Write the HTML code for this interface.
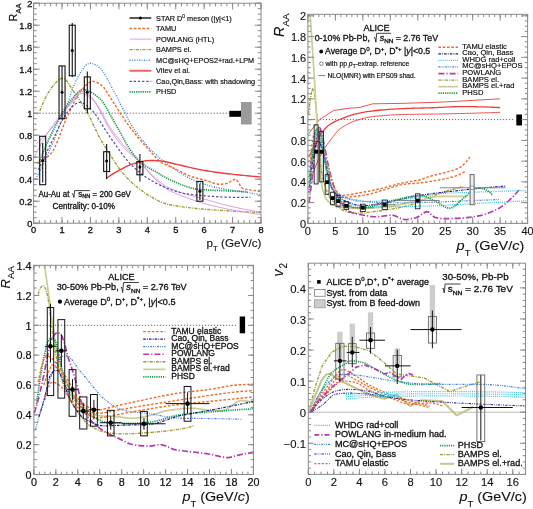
<!DOCTYPE html><html><head><meta charset="utf-8"><style>html,body{margin:0;padding:0;background:#fff;}svg{display:block;will-change:transform;filter:blur(0.35px);}text{font-family:"Liberation Sans", sans-serif;fill:#111;stroke:#111;}</style></head><body>
<svg width="533" height="509" viewBox="0 0 533 509">
<rect width="533" height="509" fill="#fff"/>
<line x1="33.6" y1="113.2" x2="229.73" y2="113.2" stroke="#555" stroke-width="0.9" stroke-dasharray="1.2 1.8"/>
<polyline points="39.85,111 42.65,104.06 45.45,97.82 48.25,92.54 51.05,88.5 53.85,84.94 56.65,81.7 59.45,79.24 62.25,78.05 65.05,78.97 67.85,82.35 70.65,86.91 73.45,91.27 76.24,95.18 79.04,99.26 81.84,103.53 84.64,108.03 87.44,112.81 90.24,118.2 93.04,124.08 95.84,130.07 98.64,135.75 101.44,140.82 104.24,145.47 107.04,149.89 109.84,154.21 112.64,158.57 115.44,163.06 118.23,167.33 121.03,171.01 123.83,174.33 126.63,177.42 129.43,180.3 132.23,182.96 135.03,185.43 137.83,187.73 140.63,189.89 143.43,191.91 146.23,193.79 149.03,195.54 151.83,197.19 154.63,198.82 157.43,200.36 160.22,201.74 163.02,202.9 165.82,203.76 168.62,204.45 171.42,205.05 174.22,205.57 177.02,206.03 179.82,206.45 182.62,206.86 185.42,207.23 188.22,207.58 191.02,207.9 193.82,208.2 196.62,208.49 199.41,208.75 202.21,208.99 205.01,209.23 207.81,209.46 210.61,209.67 213.41,209.88 216.21,210.08 219.01,210.27 221.81,210.46 224.61,210.63 227.41,210.8 230.21,210.97 233.01,211.12 235.81,211.28 238.61,211.43 241.4,211.57 244.2,211.71 247,211.84 249.8,211.97 252.6,212.09 255.4,212.21 258.2,212.32 261,212.42" fill="none" stroke="#a0a035" stroke-width="1.4" stroke-dasharray="3.2 1.1 1 1.1" stroke-linejoin="round" />
<polyline points="35.59,179.2 38.44,173.78 41.3,168.09 44.15,162.17 47,156.02 49.86,149.66 52.71,143.07 55.56,136.13 58.42,128.93 61.27,121.53 64.12,114.01 66.98,105.72 69.83,96.8 72.68,88.36 75.54,81.51 78.39,76.39 81.24,71.46 84.1,67.21 86.95,64.21 89.8,63.04 92.66,63.53 95.51,64.84 98.36,66.6 101.22,69.06 104.07,73.08 106.92,78.13 109.78,83.66 112.63,89.09 115.48,94.29 118.34,99.77 121.19,105.41 124.04,111.07 126.9,116.78 129.75,122.31 132.6,126.84 135.46,131.06 138.31,134.99 141.16,138.68 144.01,142.15 146.87,145.43 149.72,148.56 152.57,151.5 155.43,154.25 158.28,156.82 161.13,159.26 163.99,161.57 166.84,163.71 169.69,165.75 172.55,167.78 175.4,169.78 178.25,171.71 181.11,173.52 183.96,175.23 186.81,176.89 189.67,178.43 192.52,179.76 195.37,180.94 198.23,182.06 201.08,183.12 203.93,184.1 206.79,185.02 209.64,185.86 212.49,186.63 215.35,187.32 218.2,187.93 221.05,188.48 223.91,188.98 226.76,189.45 229.61,189.91 232.47,190.36 235.32,190.77 238.17,191.16 241.03,191.54 243.88,191.95 246.73,192.39 249.59,192.87 252.44,193.38 255.29,193.91 258.15,194.46 261,195.04" fill="none" stroke="#3f88e0" stroke-width="1.4" stroke-dasharray="1.2 1.4 0.8 1.4" stroke-linejoin="round" />
<polyline points="35.59,162.7 38.44,162.28 41.3,161.13 44.15,159.42 47,157.31 49.86,154.95 52.71,151.33 55.56,145.82 58.42,139.02 61.27,131.56 64.12,124.05 66.98,117.11 69.83,111.03 72.68,104.84 75.54,99.02 78.39,94.3 81.24,90.74 84.1,87.32 86.95,84.36 89.8,82.24 92.66,81.31 95.51,81.75 98.36,83.13 101.22,85.05 104.07,87.72 106.92,92.03 109.78,96.7 112.63,101.09 115.48,105.65 118.34,110.18 121.19,114.54 124.04,118.81 126.9,122.95 129.75,126.89 132.6,130.61 135.46,134.23 138.31,137.74 141.16,141.14 144.01,144.44 146.87,147.65 149.72,150.76 152.57,153.95 155.43,157.15 158.28,160.09 161.13,162.47 163.99,164.08 166.84,165.22 169.69,166.26 172.55,167.52 175.4,168.97 178.25,170.47 181.11,171.91 183.96,173.29 186.81,174.66 189.67,175.94 192.52,177.01 195.37,177.86 198.23,178.58 201.08,179.25 203.93,179.92 206.79,180.68 209.64,181.66 212.49,182.73 215.35,183.64 218.2,184.19 221.05,184.22 223.91,183.95 226.76,183.51 229.61,182.08 232.47,180.19 235.32,179.2 238.17,181.97 241.03,187.09 243.88,189.26 246.73,189.64 249.59,189.88 252.44,190.2 255.29,190.66 258.15,191.22 261,191.85" fill="none" stroke="#f06a28" stroke-width="1.4" stroke-dasharray="2.6 1.7" stroke-linejoin="round" />
<polyline points="35.87,144 38.72,141.54 41.57,138.92 44.42,136.13 47.27,133.2 50.12,130.14 52.97,126.89 55.82,123.45 58.67,119.83 61.52,116.08 64.37,112.01 67.22,107.63 70.07,103.56 72.92,99.54 75.77,95.39 78.62,92.24 81.47,91.21 84.32,92.05 87.17,93.85 90.02,96.2 92.87,98.75 95.72,102.35 98.57,106.96 101.42,112.18 104.27,117.59 107.12,122.79 109.97,127.36 112.82,131.39 115.67,135.26 118.52,138.97 121.36,142.49 124.21,145.81 127.06,148.88 129.91,151.69 132.76,154.38 135.61,157.07 138.46,159.89 141.31,162.95 144.16,166.24 147.01,169.56 149.86,172.76 152.71,175.65 155.56,178.26 158.41,180.8 161.26,183.15 164.11,185.23 166.96,186.92 169.81,188.31 172.66,189.52 175.51,190.6 178.36,191.59 181.21,192.52 184.06,193.44 186.91,194.33 189.76,195.17 192.61,195.97 195.46,196.75 198.31,197.51 201.16,198.27 204.01,199.04 206.86,199.83 209.71,200.63 212.56,201.44 215.4,202.24 218.25,203.04 221.1,203.82 223.95,204.58 226.8,205.32 229.65,206.02 232.5,206.68 235.35,207.32 238.2,207.94 241.05,208.54 243.9,209.12 246.75,209.69 249.6,210.23 252.45,210.76 255.3,211.26 258.15,211.74 261,212.2" fill="none" stroke="#dd90e0" stroke-width="0.9"  stroke-linejoin="round" />
<polyline points="33.88,158.3 36.76,152.39 39.63,146.79 42.51,141.55 45.38,136.7 48.26,132.2 51.13,127.99 54.01,124 56.88,120.19 59.76,116.55 62.63,113.06 65.51,109.71 68.38,106.48 71.26,103.25 74.13,99.44 77.01,95.86 79.88,93.64 82.76,93.59 85.63,94.68 88.51,96.44 91.38,98.53 94.26,101.3 97.13,105.55 100.01,110.8 102.88,116.54 105.76,122.27 108.63,127.46 111.51,131.79 114.38,135.83 117.26,139.68 120.13,143.32 123.01,146.7 125.88,149.76 128.76,152.48 131.63,154.97 134.51,157.42 137.38,159.98 140.25,162.83 143.13,166 146,169.33 148.88,172.64 151.75,175.76 154.63,178.61 157.5,181.41 160.38,184.1 163.25,186.54 166.13,188.61 169,190.29 171.88,191.75 174.75,193.05 177.63,194.25 180.5,195.37 183.38,196.47 186.25,197.56 189.13,198.63 192,199.65 194.88,200.64 197.75,201.58 200.63,202.47 203.5,203.3 206.38,204.08 209.25,204.84 212.13,205.57 215,206.27 217.88,206.95 220.75,207.6 223.63,208.22 226.5,208.82 229.38,209.39 232.25,209.94 235.13,210.47 238,210.98 240.88,211.47 243.75,211.95 246.63,212.41 249.5,212.86 252.38,213.28 255.25,213.67 258.13,214.05 261,214.4" fill="none" stroke="#dd90e0" stroke-width="0.9"  stroke-linejoin="round" />
<polyline points="38.43,163.8 41.08,157.22 43.74,150.87 46.39,144.77 49.04,138.92 51.69,133.34 54.34,128.03 56.99,122.98 59.65,118.02 62.3,113.21 64.95,108.68 67.6,104.57 70.25,101.02 72.91,97.91 75.56,94.77 78.21,92 80.86,90.11 83.51,89.56 86.16,89.98 88.82,90.94 91.47,92.35 94.12,94.12 96.77,96.14 99.42,98.32 102.08,101 104.73,104.94 107.38,109.64 110.03,114.51 112.68,119.09 115.33,123.76 117.99,128.53 120.64,133.29 123.29,138.02 125.94,142.86 128.59,147.41 131.25,151.33 133.9,154.94 136.55,158.2 139.2,160.97 141.85,163.19 144.5,165.14 147.16,166.87 149.81,168.46 152.46,169.97 155.11,171.44 157.76,172.95 160.42,174.52 163.07,176.1 165.72,177.6 168.37,178.98 171.02,180.18 173.67,181.35 176.33,182.52 178.98,183.67 181.63,184.77 184.28,185.81 186.93,186.76 189.58,187.6 192.24,188.31 194.89,188.87 197.54,189.26 200.19,189.49 202.84,189.7 205.5,189.87 208.15,190.03 210.8,190.16 213.45,190.28 216.1,190.39 218.75,190.5 221.41,190.6 224.06,190.7 226.71,190.81 229.36,190.94 232.01,191.07 234.67,191.2 237.32,191.33 239.97,191.46 242.62,191.59 245.27,191.72 247.92,191.85" fill="none" stroke="#179a4e" stroke-width="1.7" stroke-dasharray="1.2 1.0" stroke-linejoin="round" />
<polyline points="38.43,169.85 41.12,164 43.8,158.25 46.48,152.61 49.17,147.1 51.85,141.7 54.54,136.25 57.22,130.53 59.91,124.86 62.59,119.56 65.27,114.95 67.96,111.35 70.64,108.48 73.33,105.77 76.01,103.6 78.7,102.35 81.38,102.4 84.06,103.63 86.75,105.61 89.43,107.93 92.12,110.37 94.8,113.53 97.48,117.3 100.17,121.47 102.85,125.85 105.54,130.23 108.22,134.41 110.91,138.24 113.59,142.03 116.27,145.87 118.96,149.67 121.64,153.38 124.33,156.93 127.01,160.23 129.69,163.23 132.38,165.94 135.06,168.5 137.75,170.91 140.43,173.15 143.12,175.23 145.8,177.13 148.48,178.84 151.17,180.44 153.85,181.96 156.54,183.39 159.22,184.74 161.9,186 164.59,187.18 167.27,188.28 169.96,189.29 172.64,190.25 175.33,191.17 178.01,192.01 180.69,192.74 183.38,193.34 186.06,193.8 188.75,194.2 191.43,194.55 194.11,194.87 196.8,195.15 199.48,195.41 202.17,195.63 204.85,195.84 207.54,196.05 210.22,196.25 212.9,196.44 215.59,196.62 218.27,196.78 220.96,196.92 223.64,197.05 226.33,197.15 229.01,197.22 231.69,197.27 234.38,197.31 237.06,197.35 239.75,197.39 242.43,197.42 245.11,197.44 247.8,197.46 250.48,197.46" fill="none" stroke="#4a4aa8" stroke-width="1.2" stroke-dasharray="2.3 1.9" stroke-linejoin="round" />
<polyline points="106.65,178.1 108.61,176.74 110.56,175.42 112.51,174.15 114.47,172.93 116.42,171.77 118.37,170.67 120.33,169.62 122.28,168.56 124.24,167.52 126.19,166.54 128.14,165.62 130.1,164.8 132.05,164.11 134.01,163.55 135.96,163 137.91,162.47 139.87,161.97 141.82,161.52 143.77,161.12 145.73,160.81 147.68,160.6 149.64,160.5 151.59,160.51 153.54,160.56 155.5,160.65 157.45,160.76 159.4,160.89 161.36,161.04 163.31,161.25 165.27,161.58 167.22,162 169.17,162.48 171.13,162.99 173.08,163.5 175.03,163.97 176.99,164.41 178.94,164.85 180.9,165.3 182.85,165.76 184.8,166.23 186.76,166.69 188.71,167.16 190.66,167.61 192.62,168.07 194.57,168.5 196.53,168.93 198.48,169.34 200.43,169.73 202.39,170.09 204.34,170.43 206.29,170.75 208.25,171.06 210.2,171.36 212.16,171.65 214.11,171.94 216.06,172.21 218.02,172.47 219.97,172.73 221.92,172.98 223.88,173.23 225.83,173.46 227.79,173.7 229.74,173.93 231.69,174.15 233.65,174.37 235.6,174.59 237.55,174.8 239.51,175.01 241.46,175.21 243.42,175.42 245.37,175.61 247.32,175.8 249.28,175.99 251.23,176.17 253.18,176.35 255.14,176.52 257.09,176.69 259.05,176.85 261,177" fill="none" stroke="#ee3c3c" stroke-width="1.4"  stroke-linejoin="round" />
<rect x="39.7" y="136.3" width="6" height="48.4" fill="none" stroke="#111" stroke-width="1.1" />
<line x1="42.7" y1="142.9" x2="42.7" y2="182.5" stroke="#111" stroke-width="1.1" />
<circle cx="42.7" cy="160.5" r="1.5" fill="#000"/>
<rect x="59.03" y="65.9" width="6" height="52.8" fill="none" stroke="#111" stroke-width="1.1" />
<line x1="62.03" y1="65.9" x2="62.03" y2="118.7" stroke="#111" stroke-width="1.1" />
<circle cx="62.03" cy="92.3" r="1.5" fill="#000"/>
<rect x="69.26" y="25.2" width="6" height="50.6" fill="none" stroke="#111" stroke-width="1.1" />
<line x1="72.26" y1="23" x2="72.26" y2="76.9" stroke="#111" stroke-width="1.1" />
<circle cx="72.26" cy="50.5" r="1.5" fill="#000"/>
<rect x="84.32" y="76.9" width="6" height="31.9" fill="none" stroke="#111" stroke-width="1.1" />
<line x1="87.32" y1="71.4" x2="87.32" y2="113.2" stroke="#111" stroke-width="1.1" />
<circle cx="87.32" cy="92.3" r="1.5" fill="#000"/>
<rect x="103.65" y="151.7" width="6" height="19.8" fill="none" stroke="#111" stroke-width="1.1" />
<line x1="106.65" y1="144" x2="106.65" y2="179.2" stroke="#111" stroke-width="1.1" />
<circle cx="106.65" cy="161.05" r="1.5" fill="#000"/>
<rect x="136.91" y="161.6" width="6" height="13.2" fill="none" stroke="#111" stroke-width="1.1" />
<line x1="139.91" y1="153.9" x2="139.91" y2="181.4" stroke="#111" stroke-width="1.1" />
<circle cx="139.91" cy="167.1" r="1.5" fill="#000"/>
<rect x="196.89" y="181.4" width="6" height="19.8" fill="none" stroke="#111" stroke-width="1.1" />
<line x1="199.89" y1="183.6" x2="199.89" y2="200.1" stroke="#111" stroke-width="1.1" />
<circle cx="199.89" cy="191.3" r="1.5" fill="#000"/>
<rect x="229.3" y="110.8" width="11.7" height="6" fill="#000" stroke="none" stroke-width="1" />
<rect x="241" y="102" width="10.7" height="22.5" fill="#9a9a9a" stroke="none" stroke-width="1" />
<rect x="33.6" y="3.2" width="227.4" height="220" fill="none" stroke="#8a8a8a" stroke-width="1.0" />
<path d="M33.6 223.2v-6.2M33.6 3.2v6.2M62.03 223.2v-6.2M62.03 3.2v6.2M90.45 223.2v-6.2M90.45 3.2v6.2M118.88 223.2v-6.2M118.88 3.2v6.2M147.3 223.2v-6.2M147.3 3.2v6.2M175.72 223.2v-6.2M175.72 3.2v6.2M204.15 223.2v-6.2M204.15 3.2v6.2M232.57 223.2v-6.2M232.57 3.2v6.2M261 223.2v-6.2M261 3.2v6.2M33.6 223.2v-3.2M33.6 3.2v3.2M39.29 223.2v-3.2M39.29 3.2v3.2M44.97 223.2v-3.2M44.97 3.2v3.2M50.66 223.2v-3.2M50.66 3.2v3.2M56.34 223.2v-3.2M56.34 3.2v3.2M62.03 223.2v-3.2M62.03 3.2v3.2M67.71 223.2v-3.2M67.71 3.2v3.2M73.4 223.2v-3.2M73.4 3.2v3.2M79.08 223.2v-3.2M79.08 3.2v3.2M84.77 223.2v-3.2M84.77 3.2v3.2M90.45 223.2v-3.2M90.45 3.2v3.2M96.14 223.2v-3.2M96.14 3.2v3.2M101.82 223.2v-3.2M101.82 3.2v3.2M107.5 223.2v-3.2M107.5 3.2v3.2M113.19 223.2v-3.2M113.19 3.2v3.2M118.88 223.2v-3.2M118.88 3.2v3.2M124.56 223.2v-3.2M124.56 3.2v3.2M130.25 223.2v-3.2M130.25 3.2v3.2M135.93 223.2v-3.2M135.93 3.2v3.2M141.62 223.2v-3.2M141.62 3.2v3.2M147.3 223.2v-3.2M147.3 3.2v3.2M152.99 223.2v-3.2M152.99 3.2v3.2M158.67 223.2v-3.2M158.67 3.2v3.2M164.36 223.2v-3.2M164.36 3.2v3.2M170.04 223.2v-3.2M170.04 3.2v3.2M175.72 223.2v-3.2M175.72 3.2v3.2M181.41 223.2v-3.2M181.41 3.2v3.2M187.09 223.2v-3.2M187.09 3.2v3.2M192.78 223.2v-3.2M192.78 3.2v3.2M198.47 223.2v-3.2M198.47 3.2v3.2M204.15 223.2v-3.2M204.15 3.2v3.2M209.84 223.2v-3.2M209.84 3.2v3.2M215.52 223.2v-3.2M215.52 3.2v3.2M221.21 223.2v-3.2M221.21 3.2v3.2M226.89 223.2v-3.2M226.89 3.2v3.2M232.57 223.2v-3.2M232.57 3.2v3.2M238.26 223.2v-3.2M238.26 3.2v3.2M243.95 223.2v-3.2M243.95 3.2v3.2M249.63 223.2v-3.2M249.63 3.2v3.2M255.32 223.2v-3.2M255.32 3.2v3.2M261 223.2v-3.2M261 3.2v3.2M33.6 223.2h6.2M261 223.2h-6.2M33.6 201.2h6.2M261 201.2h-6.2M33.6 179.2h6.2M261 179.2h-6.2M33.6 157.2h6.2M261 157.2h-6.2M33.6 135.2h6.2M261 135.2h-6.2M33.6 113.2h6.2M261 113.2h-6.2M33.6 91.2h6.2M261 91.2h-6.2M33.6 69.2h6.2M261 69.2h-6.2M33.6 47.2h6.2M261 47.2h-6.2M33.6 25.2h6.2M261 25.2h-6.2M33.6 3.2h6.2M261 3.2h-6.2M33.6 223.2h3.2M261 223.2h-3.2M33.6 217.7h3.2M261 217.7h-3.2M33.6 212.2h3.2M261 212.2h-3.2M33.6 206.7h3.2M261 206.7h-3.2M33.6 201.2h3.2M261 201.2h-3.2M33.6 195.7h3.2M261 195.7h-3.2M33.6 190.2h3.2M261 190.2h-3.2M33.6 184.7h3.2M261 184.7h-3.2M33.6 179.2h3.2M261 179.2h-3.2M33.6 173.7h3.2M261 173.7h-3.2M33.6 168.2h3.2M261 168.2h-3.2M33.6 162.7h3.2M261 162.7h-3.2M33.6 157.2h3.2M261 157.2h-3.2M33.6 151.7h3.2M261 151.7h-3.2M33.6 146.2h3.2M261 146.2h-3.2M33.6 140.7h3.2M261 140.7h-3.2M33.6 135.2h3.2M261 135.2h-3.2M33.6 129.7h3.2M261 129.7h-3.2M33.6 124.2h3.2M261 124.2h-3.2M33.6 118.7h3.2M261 118.7h-3.2M33.6 113.2h3.2M261 113.2h-3.2M33.6 107.7h3.2M261 107.7h-3.2M33.6 102.2h3.2M261 102.2h-3.2M33.6 96.7h3.2M261 96.7h-3.2M33.6 91.2h3.2M261 91.2h-3.2M33.6 85.7h3.2M261 85.7h-3.2M33.6 80.2h3.2M261 80.2h-3.2M33.6 74.7h3.2M261 74.7h-3.2M33.6 69.2h3.2M261 69.2h-3.2M33.6 63.7h3.2M261 63.7h-3.2M33.6 58.2h3.2M261 58.2h-3.2M33.6 52.7h3.2M261 52.7h-3.2M33.6 47.2h3.2M261 47.2h-3.2M33.6 41.7h3.2M261 41.7h-3.2M33.6 36.2h3.2M261 36.2h-3.2M33.6 30.7h3.2M261 30.7h-3.2M33.6 25.2h3.2M261 25.2h-3.2M33.6 19.7h3.2M261 19.7h-3.2M33.6 14.2h3.2M261 14.2h-3.2M33.6 8.7h3.2M261 8.7h-3.2M33.6 3.2h3.2M261 3.2h-3.2" stroke="#8a8a8a" stroke-width="1.0" fill="none"/>
<text x="33.6" y="233" font-size="9.3" stroke-width="0.3" text-anchor="middle" >0</text>
<text x="62.03" y="233" font-size="9.3" stroke-width="0.3" text-anchor="middle" >1</text>
<text x="90.45" y="233" font-size="9.3" stroke-width="0.3" text-anchor="middle" >2</text>
<text x="118.88" y="233" font-size="9.3" stroke-width="0.3" text-anchor="middle" >3</text>
<text x="147.3" y="233" font-size="9.3" stroke-width="0.3" text-anchor="middle" >4</text>
<text x="175.72" y="233" font-size="9.3" stroke-width="0.3" text-anchor="middle" >5</text>
<text x="204.15" y="233" font-size="9.3" stroke-width="0.3" text-anchor="middle" >6</text>
<text x="232.57" y="233" font-size="9.3" stroke-width="0.3" text-anchor="middle" >7</text>
<text x="261" y="233" font-size="9.3" stroke-width="0.3" text-anchor="middle" >8</text>
<text x="32.3" y="226.7" font-size="9.3" stroke-width="0.3" text-anchor="end" >0</text>
<text x="32.3" y="204.7" font-size="9.3" stroke-width="0.3" text-anchor="end" >0.2</text>
<text x="32.3" y="182.7" font-size="9.3" stroke-width="0.3" text-anchor="end" >0.4</text>
<text x="32.3" y="160.7" font-size="9.3" stroke-width="0.3" text-anchor="end" >0.6</text>
<text x="32.3" y="138.7" font-size="9.3" stroke-width="0.3" text-anchor="end" >0.8</text>
<text x="32.3" y="116.7" font-size="9.3" stroke-width="0.3" text-anchor="end" >1</text>
<text x="32.3" y="94.7" font-size="9.3" stroke-width="0.3" text-anchor="end" >1.2</text>
<text x="32.3" y="72.7" font-size="9.3" stroke-width="0.3" text-anchor="end" >1.4</text>
<text x="32.3" y="50.7" font-size="9.3" stroke-width="0.3" text-anchor="end" >1.6</text>
<text x="32.3" y="28.7" font-size="9.3" stroke-width="0.3" text-anchor="end" >1.8</text>
<text x="32.3" y="6.7" font-size="9.3" stroke-width="0.3" text-anchor="end" >2</text>
<text x="206.6" y="247.1" font-size="11.3" stroke-width="0.12" text-anchor="start" textLength="54.8" lengthAdjust="spacingAndGlyphs" >p<tspan font-size="7.5" dy="4.2">T</tspan><tspan dy="-4.2"> (GeV/c)</tspan></text>
<text transform="translate(17.1,21.4) rotate(-90)" font-size="10.8" stroke-width="0.22" >R<tspan font-size="7.6" dy="3.7">AA</tspan></text>
<line x1="129.5" y1="18" x2="151.3" y2="18" stroke="#000" stroke-width="1.3" />
<circle cx="140.4" cy="18" r="1.5" fill="#000"/>
<text x="156.1" y="20.5" font-size="7.3" stroke-width="0.18" text-anchor="start" >STAR D<tspan font-size="5" dy="-3">0</tspan><tspan dy="3"> meson (|y|&lt;1)</tspan></text>
<line x1="129.5" y1="28.55" x2="151.3" y2="28.55" stroke="#f06a28" stroke-width="1.4" stroke-dasharray="2.6 1.7"/>
<text x="156.1" y="31.05" font-size="7.3" stroke-width="0.18" text-anchor="start" >TAMU</text>
<line x1="129.5" y1="39.1" x2="151.3" y2="39.1" stroke="#dd90e0" stroke-width="0.9" />
<text x="156.1" y="41.6" font-size="7.3" stroke-width="0.18" text-anchor="start" >POWLANG (HTL)</text>
<line x1="129.5" y1="49.65" x2="151.3" y2="49.65" stroke="#a0a035" stroke-width="1.4" stroke-dasharray="3.2 1.1 1 1.1"/>
<text x="156.1" y="52.15" font-size="7.3" stroke-width="0.18" text-anchor="start" >BAMPS el.</text>
<line x1="129.5" y1="60.2" x2="151.3" y2="60.2" stroke="#3f88e0" stroke-width="1.4" stroke-dasharray="1.2 1.4 0.8 1.4"/>
<text x="156.1" y="62.7" font-size="7.3" stroke-width="0.18" text-anchor="start" >MC@sHQ+EPOS2+rad.+LPM</text>
<line x1="129.5" y1="70.75" x2="151.3" y2="70.75" stroke="#f06464" stroke-width="2.0" />
<text x="156.1" y="73.25" font-size="7.3" stroke-width="0.18" text-anchor="start" >Vitev et al.</text>
<line x1="129.5" y1="81.3" x2="151.3" y2="81.3" stroke="#4a4aa8" stroke-width="1.2" stroke-dasharray="2.3 1.9"/>
<text x="156.1" y="83.8" font-size="7.3" stroke-width="0.18" text-anchor="start" >Cao,Qin,Bass: with shadowing</text>
<line x1="129.5" y1="91.85" x2="151.3" y2="91.85" stroke="#179a4e" stroke-width="1.7" stroke-dasharray="1.2 1.0"/>
<text x="156.1" y="94.35" font-size="7.3" stroke-width="0.18" text-anchor="start" >PHSD</text>
<text x="38.4" y="196.5" font-size="8.2" stroke-width="0.3" text-anchor="start" textLength="92.5" lengthAdjust="spacingAndGlyphs" >Au-Au at &#160;&#160;&#160;s<tspan font-size="5.8" dy="1.8">NN</tspan><tspan dy="-1.8"> = 200 GeV</tspan></text>
<path d="M72 194.26L72.8 193.67L73.9 197.5L74.7 190.6L89.8 190.6" fill="none" stroke="#111" stroke-width="0.8"/>
<text x="52.6" y="208.9" font-size="8.2" stroke-width="0.3" text-anchor="start" textLength="62.3" lengthAdjust="spacingAndGlyphs" >Centrality: 0-10%</text>
<line x1="307.9" y1="119.6" x2="513.87" y2="119.6" stroke="#555" stroke-width="0.9" stroke-dasharray="1.2 1.8"/>
<rect x="314.14" y="124.79" width="4" height="59.17" fill="#f2f2f2" stroke="none" stroke-width="1" />
<rect x="315.84" y="124.79" width="1.8" height="59.17" fill="#d8d8d8" stroke="none" stroke-width="1" />
<rect x="319.63" y="131.43" width="4" height="50.45" fill="#f2f2f2" stroke="none" stroke-width="1" />
<rect x="321.33" y="131.43" width="1.8" height="50.45" fill="#d8d8d8" stroke="none" stroke-width="1" />
<polyline points="308.45,134.13 309.82,132.16 319.6,119.6 333.39,110.57 349.09,108.18 358.98,107.66 372.71,103.82 400.17,103.41 445.21,101.95 500.14,98.84" fill="none" stroke="#ee3c3c" stroke-width="0.9"  stroke-linejoin="round" />
<polyline points="308.72,156.97 311.15,152.28 313.57,147.37 315.99,142.7 318.42,138.33 320.84,134.17 323.26,130.7 325.68,128.07 328.11,125.85 330.53,124.04 332.95,122.57 335.38,121.32 337.8,120.23 340.22,119.23 342.65,118.28 345.07,117.35 347.49,116.48 349.91,115.65 352.34,114.89 354.76,114.19 357.18,113.57 359.61,113.03 362.03,112.55 364.45,112.11 366.87,111.7 369.3,111.34 371.72,111.02 374.14,110.74 376.57,110.48 378.99,110.24 381.41,110.01 383.84,109.79 386.26,109.59 388.68,109.4 391.1,109.22 393.53,109.06 395.95,108.92 398.37,108.79 400.8,108.67 403.22,108.57 405.64,108.48 408.07,108.4 410.49,108.32 412.91,108.25 415.33,108.18 417.76,108.12 420.18,108.06 422.6,108 425.03,107.93 427.45,107.87 429.87,107.8 432.29,107.73 434.72,107.65 437.14,107.55 439.56,107.44 441.99,107.33 444.41,107.2 446.83,107.08 449.26,106.97 451.68,106.86 454.1,106.77 456.52,106.69 458.95,106.65 461.37,106.63 463.79,106.63 466.22,106.63 468.64,106.65 471.06,106.67 473.48,106.7 475.91,106.73 478.33,106.78 480.75,106.83 483.18,106.89 485.6,106.97 488.02,107.05 490.45,107.15 492.87,107.26 495.29,107.38 497.71,107.51 500.14,107.66" fill="none" stroke="#ee3c3c" stroke-width="1.3"  stroke-linejoin="round" />
<polyline points="311.8,176.38 314.18,169.8 316.57,163.86 318.95,158.68 321.34,154.04 323.72,149.85 326.1,146.04 328.49,142.61 330.87,139.46 333.26,136.42 335.64,133.29 338.02,130.5 340.41,128.56 342.79,126.94 345.18,125.47 347.56,124.15 349.94,122.97 352.33,121.92 354.71,120.99 357.1,120.18 359.48,119.46 361.86,118.8 364.25,118.2 366.63,117.66 369.02,117.19 371.4,116.8 373.78,116.49 376.17,116.23 378.55,115.99 380.94,115.77 383.32,115.56 385.7,115.37 388.09,115.2 390.47,115.05 392.86,114.91 395.24,114.8 397.62,114.7 400.01,114.62 402.39,114.56 404.78,114.5 407.16,114.45 409.54,114.4 411.93,114.36 414.31,114.32 416.7,114.29 419.08,114.26 421.46,114.23 423.85,114.2 426.23,114.17 428.62,114.14 431,114.11 433.38,114.08 435.77,114.05 438.15,114.02 440.54,113.98 442.92,113.94 445.3,113.89 447.69,113.84 450.07,113.79 452.46,113.73 454.84,113.68 457.23,113.62 459.61,113.56 461.99,113.5 464.38,113.44 466.76,113.38 469.15,113.31 471.53,113.25 473.91,113.18 476.3,113.11 478.68,113.04 481.07,112.96 483.45,112.89 485.83,112.81 488.22,112.74 490.6,112.66 492.99,112.58 495.37,112.5 497.75,112.42 500.14,112.33" fill="none" stroke="#ee3c3c" stroke-width="0.9"  stroke-linejoin="round" />
<polyline points="308.45,113.79 310.41,98.07 312.37,88.41 314.33,92.58 316.29,108.87 318.25,136.05 320.21,162.89 322.17,174.99 324.13,183.12 326.09,189.29 328.06,194.17 330.02,197.66 331.98,200.13 333.94,202.07 335.9,203.77 337.86,205.51 339.82,207.61 341.78,209.62 343.74,210.68 345.7,211.37 347.66,211.96 349.62,212.45 351.58,212.83 353.54,213.09 355.5,213.22 357.46,213.22 359.43,213.15 361.39,213.03 363.35,212.87 365.31,212.67 367.27,212.44 369.23,212.2 371.19,211.94 373.15,211.69 375.11,211.43 377.07,211.19 379.03,210.95 380.99,210.7 382.95,210.43 384.91,210.16 386.87,209.87 388.83,209.56 390.8,209.25 392.76,208.91 394.72,208.57 396.68,208.21 398.64,207.83 400.6,207.43 402.56,207.01 404.52,206.55 406.48,206.06 408.44,205.54 410.4,204.99 412.36,204.4 414.32,203.79 416.28,203.14 418.24,202.46 420.2,201.68 422.16,200.79 424.13,199.85 426.09,198.88 428.05,197.92 430.01,197.02 431.97,196.22 433.93,195.47 435.89,194.73 437.85,194.02 439.81,193.33 441.77,192.66 443.73,192.01 445.69,191.38 447.65,190.77 449.61,190.18 451.57,189.61 453.53,189.05 455.5,188.51 457.46,187.99 459.42,187.49 461.38,187.01 463.34,186.55" fill="none" stroke="#a0a035" stroke-width="1.4" stroke-dasharray="3.2 1.1 1 1.1" stroke-linejoin="round" />
<polyline points="310.21,15.8 312.19,44.54 314.18,75.44 316.17,107.99 318.15,143.68 320.14,172.94 322.13,187.46 324.12,194.58 326.1,198.83 328.09,201.48 330.08,203.11 332.06,204.35 334.05,205.28 336.04,205.97 338.03,206.57 340.01,207.06 342,207.41 343.99,207.59 345.97,207.74 347.96,207.87 349.95,207.98 351.93,208.08 353.92,208.17 355.91,208.24 357.9,208.29 359.88,208.33 361.87,208.35 363.86,208.34 365.84,208.31 367.83,208.25 369.82,208.16 371.8,208.05 373.79,207.91 375.78,207.76 377.77,207.59 379.75,207.4 381.74,207.2 383.73,206.99 385.71,206.78 387.7,206.56 389.69,206.34 391.68,206.11 393.66,205.82 395.65,205.49 397.64,205.11 399.62,204.71 401.61,204.27 403.6,203.81 405.58,203.35 407.57,202.87 409.56,202.39 411.55,201.92 413.53,201.46 415.52,201.02 417.51,200.61 419.49,200.2 421.48,199.74 423.47,199.25 425.45,198.75 427.44,198.25 429.43,197.79 431.42,197.36 433.4,196.99 435.39,196.7 437.38,196.5 439.36,196.41 441.35,196.41 443.34,196.41 445.33,196.41 447.31,196.41 449.3,196.41 451.29,196.41 453.27,196.41 455.26,196.41 457.25,196.41 459.23,196.41 461.22,196.41 463.21,196.41 465.2,196.41 467.18,196.41" fill="none" stroke="#cccc94" stroke-width="1.7"  stroke-linejoin="round" />
<polyline points="309,202.64 311.67,181.97 314.34,155.69 317.01,135.69 319.68,126.41 322.35,135.54 325.02,149.23 327.69,162.76 330.36,174.19 333.03,183.87 335.7,191.76 338.37,197.94 341.04,202.14 343.71,205.92 346.38,209.92 349.05,211.39 351.71,212.51 354.38,213.35 357.05,214 359.72,214.53 362.39,215.01 365.06,215.49 367.73,215.94 370.4,216.33 373.07,216.61 375.74,216.75 378.41,216.69 381.08,216.41 383.75,216.01 386.42,215.58 389.09,215.25 391.76,215.1 394.43,215.55 397.1,216.72 399.77,218.12 402.44,219.22 405.11,219.55 407.78,219.37 410.45,218.96 413.12,218.41 415.79,217.77 418.46,216.65 421.13,214.77 423.8,212.86 426.47,211.62 429.14,212.15 431.81,215.17 434.48,217.24 437.15,217.88 439.82,218.36 442.49,218.65 445.16,218.73 447.83,218.7 450.5,218.63 453.17,218.54 455.84,218.42 458.51,218.29 461.18,218.14 463.85,217.95 466.52,217.69 469.18,217.37 471.85,217 474.52,216.58 477.19,216.11 479.86,215.61 482.53,214.99 485.2,214.22 487.87,213.3 490.54,212.24 493.21,211.06 495.88,209.77 498.55,208.39 501.22,206.88 503.89,205 506.56,202.78 509.23,200.33 511.9,197.76 514.57,195.03 517.24,191.99 519.91,188.73" fill="none" stroke="#b53aae" stroke-width="1.7" stroke-dasharray="6 2 1.2 2" stroke-linejoin="round" />
<polyline points="309.55,176.69 311.58,147.29 313.61,134.74 315.64,132.18 317.67,134.64 319.7,141.58 321.73,147.45 323.76,153.53 325.79,160.11 327.82,167.6 329.85,174.98 331.88,181.96 333.91,186.88 335.94,190.51 337.97,193.18 340,195.13 342.03,195.36 344.06,195.26 346.09,195.09 348.12,194.85 350.15,194.56 352.18,194.23 354.21,193.86 356.24,193.48 358.27,193.09 360.3,192.71 362.33,192.34 364.36,191.99 366.39,191.62 368.42,191.23 370.45,190.82 372.48,190.4 374.51,189.96 376.54,189.51 378.57,189.05 380.6,188.58 382.63,188.1 384.66,187.62 386.69,187.11 388.72,186.56 390.75,185.98 392.78,185.39 394.81,184.8 396.84,184.25 398.87,183.73 400.9,183.28 402.93,182.88 404.96,182.5 406.99,182.14 409.02,181.77 411.05,181.43 413.08,181.1 415.11,180.77 417.15,180.41 419.18,179.98 421.21,179.45 423.24,178.74 425.27,177.94 427.3,177.17 429.33,176.52 431.36,175.96 433.39,175.44 435.42,174.96 437.45,174.49 439.48,174.02 441.51,173.53 443.54,173.01 445.57,172.43 447.6,171.86 449.63,171.29 451.66,170.7 453.69,170.06 455.72,169.33 457.75,168.48 459.78,167.49 461.81,166.17 463.84,164.34 465.87,162.12 467.9,159.63 469.93,156.97" fill="none" stroke="#f06a28" stroke-width="1.4" stroke-dasharray="2.6 1.7" stroke-linejoin="round" />
<polyline points="340.85,197.45 342.43,197.42 344,197.36 345.57,197.28 347.14,197.18 348.71,197.06 350.28,196.92 351.85,196.76 353.43,196.59 355,196.41 356.57,196.21 358.14,196.01 359.71,195.8 361.28,195.59 362.85,195.37 364.42,195.13 366,194.84 367.57,194.51 369.14,194.15 370.71,193.76 372.28,193.34 373.85,192.9 375.42,192.44 376.99,191.98 378.57,191.51 380.14,191.03 381.71,190.56 383.28,190.1 384.85,189.65 386.42,189.18 387.99,188.68 389.56,188.16 391.14,187.63 392.71,187.1 394.28,186.58 395.85,186.09 397.42,185.64 398.99,185.25 400.56,184.92 402.13,184.63 403.71,184.36 405.28,184.14 406.85,183.95 408.42,183.79 409.99,183.66 411.56,183.55 413.13,183.44 414.7,183.34 416.28,183.23 417.85,183.11 419.42,182.97 420.99,182.81 422.56,182.62 424.13,182.42 425.7,182.21 427.27,181.98 428.85,181.74 430.42,181.48 431.99,181.22 433.56,180.94 435.13,180.66 436.7,180.37 438.27,180.08 439.85,179.78 441.42,179.48 442.99,179.17 444.56,178.85 446.13,178.52 447.7,178.18 449.27,177.8 450.84,177.41 452.42,176.98 453.99,176.52 455.56,176.02 457.13,175.43 458.7,174.76 460.27,174.02 461.84,173.22 463.41,172.38 464.99,171.5" fill="none" stroke="#f06a28" stroke-width="1.4" stroke-dasharray="2.6 1.7" stroke-linejoin="round" />
<polyline points="309.55,187.07 312.03,164.53 314.51,150.32 316.99,141.11 319.48,142.04 321.96,148.07 324.44,158.26 326.92,170.7 329.4,180.11 331.89,187.66 334.37,191.91 336.85,195.02 339.33,197.36 341.81,199.12 344.3,200.6 346.78,201.85 349.26,202.86 351.74,203.65 354.22,204.32 356.71,204.95 359.19,205.44 361.67,205.72 364.15,205.73 366.63,205.6 369.12,205.35 371.6,205.01 374.08,204.61 376.56,204.16 379.05,203.69 381.53,203.22 384.01,202.77 386.49,202.35 388.97,201.89 391.46,201.39 393.94,200.87 396.42,200.32 398.9,199.76 401.38,199.19 403.87,198.62 406.35,198.06 408.83,197.51 411.31,196.98 413.79,196.47 416.28,196 418.76,195.57 421.24,195.17 423.72,194.8 426.2,194.44 428.69,194.09 431.17,193.75 433.65,193.42 436.13,193.1 438.61,192.79 441.1,192.49 443.58,192.2 446.06,191.91 448.54,191.62 451.02,191.35 453.51,191.07 455.99,190.8 458.47,190.53 460.95,190.26 463.44,190 465.92,189.73 468.4,189.47 470.88,189.22 473.36,188.96 475.85,188.71 478.33,188.47 480.81,188.23 483.29,187.99 485.77,187.75 488.26,187.52 490.74,187.3 493.22,187.07 495.7,186.86 498.18,186.64 500.67,186.43 503.15,186.23 505.63,186.03" fill="none" stroke="#1a1a8c" stroke-width="1.2" stroke-dasharray="2.6 1.1 0.9 1.1" stroke-linejoin="round" />
<polyline points="309.55,176.69 312.31,151.75 315.07,138.59 317.83,130.78 320.59,132.02 323.35,140.62 326.11,159.52 328.87,176.24 331.63,187.67 334.39,190.38 337.15,191.98 339.91,194.12 342.67,196.38 345.43,198.13 348.19,199.06 350.95,199.84 353.71,200.51 356.47,201.05 359.23,201.42 361.99,201.59 364.75,201.59 367.51,201.56 370.27,201.5 373.03,201.41 375.79,201.31 378.55,201.19 381.31,201.05 384.07,200.91 386.83,200.76 389.59,200.6 392.35,200.43 395.11,200.22 397.87,199.97 400.63,199.68 403.39,199.36 406.15,199.02 408.91,198.66 411.67,198.29 414.43,197.91 417.19,197.53 419.95,197.11 422.71,196.6 425.47,196.03 428.23,195.44 430.99,194.88 433.75,194.36 436.51,193.94 439.28,193.64 442.04,193.46 444.8,193.3 447.56,193.15 450.32,193.03 453.08,192.91 455.84,192.81 458.6,192.72 461.36,192.63 464.12,192.54 466.88,192.46 469.64,192.37 472.4,192.27 475.16,192.17 477.92,192.07 480.68,191.97 483.44,191.88 486.2,191.78 488.96,191.68 491.72,191.59 494.48,191.5 497.24,191.41 500,191.32 502.76,191.23 505.52,191.14 508.28,191.05 511.04,190.97 513.8,190.89 516.56,190.8 519.32,190.72 522.08,190.65 524.84,190.57 527.6,190.5" fill="none" stroke="#3cc0e0" stroke-width="1.3" stroke-dasharray="1 1.1" stroke-linejoin="round" />
<polyline points="331.9,196.31 334.38,197.62 336.86,198.86 339.33,200.01 341.81,201.06 344.29,201.98 346.77,202.76 349.24,203.5 351.72,204.22 354.2,204.89 356.67,205.47 359.15,205.92 361.63,206.2 364.11,206.32 366.58,206.4 369.06,206.48 371.54,206.55 374.01,206.61 376.49,206.66 378.97,206.7 381.45,206.74 383.92,206.76 386.4,206.78 388.88,206.79 391.35,206.79 393.83,206.78 396.31,206.75 398.79,206.72 401.26,206.67 403.74,206.62 406.22,206.56 408.7,206.5 411.17,206.43 413.65,206.37 416.13,206.31 418.6,206.25 421.08,206.2 423.56,206.14 426.04,206.07 428.51,206.01 430.99,205.94 433.47,205.86 435.94,205.78 438.42,205.7 440.9,205.6 443.38,205.49 445.85,205.37 448.33,205.23 450.81,205.09 453.28,204.93 455.76,204.77 458.24,204.61 460.72,204.44 463.19,204.27 465.67,204.11 468.15,203.95 470.62,203.8 473.1,203.65 475.58,203.51 478.06,203.38 480.53,203.24 483.01,203.1 485.49,202.96 487.97,202.83 490.44,202.69 492.92,202.56 495.4,202.42 497.87,202.29 500.35,202.16 502.83,202.03 505.31,201.9 507.78,201.77 510.26,201.64 512.74,201.51 515.21,201.39 517.69,201.26 520.17,201.14 522.65,201.01 525.12,200.89 527.6,200.77" fill="none" stroke="#3cc0e0" stroke-width="1.3" stroke-dasharray="1 1.1" stroke-linejoin="round" />
<polyline points="309.55,176.69 311.96,158.74 314.37,145.99 316.79,136.4 319.2,136.67 321.61,143.63 324.02,155.96 326.44,174.09 328.85,183.4 331.26,187.66 333.67,190.89 336.09,193.25 338.5,194.9 340.91,196.04 343.32,196.98 345.74,197.76 348.15,198.43 350.56,198.99 352.97,199.47 355.39,199.9 357.8,200.3 360.21,200.68 362.62,201.03 365.04,201.35 367.45,201.63 369.86,201.86 372.27,202.04 374.69,202.16 377.1,202.27 379.51,202.37 381.92,202.47 384.34,202.55 386.75,202.63 389.16,202.7 391.57,202.75 393.99,202.8 396.4,202.83 398.81,202.85 401.22,202.85 403.64,202.84 406.05,202.82 408.46,202.79 410.87,202.75 413.29,202.71 415.7,202.67 418.11,202.63 420.52,202.59 422.94,202.53 425.35,202.47 427.76,202.4 430.17,202.33 432.59,202.25 435,202.16 437.41,202.07 439.82,201.97 442.24,201.87 444.65,201.77 447.06,201.67 449.47,201.56 451.89,201.45 454.3,201.35 456.71,201.24 459.12,201.13 461.54,201.02 463.95,200.92 466.36,200.82 468.77,200.72 471.19,200.62 473.6,200.53 476.01,200.44 478.42,200.35 480.84,200.26 483.25,200.16 485.66,200.07 488.07,199.98 490.49,199.89 492.9,199.8 495.31,199.71 497.72,199.62 500.14,199.53" fill="none" stroke="#3f80d8" stroke-width="1.2" stroke-dasharray="2 1.1 0.8 1.1 0.8 1.1" stroke-linejoin="round" />
<polyline points="309,192.26 311.33,163.85 313.66,143.66 315.99,129.14 318.31,129.2 320.64,134.07 322.97,144.11 325.3,160.71 327.63,173.67 329.96,182.74 332.29,189.49 334.62,193.85 336.95,197.27 339.28,200.01 341.61,202.33 343.93,204.44 346.26,205.73 348.59,206.27 350.92,206.73 353.25,207.11 355.58,207.42 357.91,207.64 360.24,207.78 362.57,207.83 364.9,207.74 367.23,207.46 369.56,207.02 371.88,206.45 374.21,205.79 376.54,205.07 378.87,204.34 381.2,203.63 383.53,202.96 385.86,202.38 388.19,201.77 390.52,201.15 392.85,200.53 395.18,199.91 397.5,199.33 399.83,198.79 402.16,198.3 404.49,197.8 406.82,197.27 409.15,196.76 411.48,196.29 413.81,195.89 416.14,195.59 418.47,195.41 420.8,195.41 423.12,195.8 425.45,196.55 427.78,197.53 430.11,198.64 432.44,199.77 434.77,200.8 437.1,202.06 439.43,203.56 441.76,205.11 444.09,206.52 446.42,207.61 448.74,208.19 451.07,208.04 453.4,207 455.73,205.31 458.06,203.21 460.39,200.96 462.72,198.81 465.05,196.99 467.38,194.99 469.71,192.8 472.04,190.74 474.36,189.1 476.69,188.2 479.02,188.15 481.35,188.42 483.68,189 486.01,189.93 488.34,191.27 490.67,193.07 493,195.37" fill="none" stroke="#179a4e" stroke-width="1.7" stroke-dasharray="1.2 1.0" stroke-linejoin="round" />
<line x1="313.39" y1="151.78" x2="318.88" y2="151.78" stroke="#777" stroke-width="0.9" />
<rect x="314.14" y="124.79" width="4" height="59.17" fill="none" stroke="#222" stroke-width="0.9" />
<rect x="314.24" y="149.88" width="3.8" height="3.8" fill="#000" stroke="none" stroke-width="1" />
<line x1="318.88" y1="151.78" x2="324.38" y2="151.78" stroke="#777" stroke-width="0.9" />
<rect x="319.73" y="131.43" width="3.8" height="50.45" fill="none" stroke="#222" stroke-width="0.9" />
<rect x="319.73" y="149.88" width="3.8" height="3.8" fill="#000" stroke="none" stroke-width="1" />
<line x1="324.38" y1="182.19" x2="329.87" y2="182.19" stroke="#777" stroke-width="0.9" />
<rect x="325.22" y="174.61" width="3.8" height="19.72" fill="none" stroke="#222" stroke-width="0.9" />
<rect x="325.22" y="180.29" width="3.8" height="3.8" fill="#000" stroke="none" stroke-width="1" />
<line x1="329.87" y1="198.07" x2="335.36" y2="198.07" stroke="#777" stroke-width="0.9" />
<rect x="330.62" y="192.26" width="4" height="12.46" fill="none" stroke="#222" stroke-width="0.9" />
<rect x="330.72" y="196.17" width="3.8" height="3.8" fill="#000" stroke="none" stroke-width="1" />
<line x1="335.36" y1="201.08" x2="340.85" y2="201.08" stroke="#777" stroke-width="0.9" />
<rect x="336.11" y="195.37" width="4" height="11.42" fill="none" stroke="#222" stroke-width="0.9" />
<rect x="336.21" y="199.18" width="3.8" height="3.8" fill="#000" stroke="none" stroke-width="1" />
<line x1="340.85" y1="205.86" x2="351.84" y2="205.86" stroke="#777" stroke-width="0.9" />
<rect x="344.05" y="201.6" width="4.6" height="7.78" fill="none" stroke="#222" stroke-width="0.9" />
<rect x="344.45" y="203.96" width="3.8" height="3.8" fill="#000" stroke="none" stroke-width="1" />
<line x1="351.84" y1="207.73" x2="373.81" y2="207.73" stroke="#777" stroke-width="0.9" />
<rect x="360.32" y="204.2" width="5" height="7.27" fill="none" stroke="#222" stroke-width="0.9" />
<rect x="360.93" y="205.83" width="3.8" height="3.8" fill="#000" stroke="none" stroke-width="1" />
<line x1="373.81" y1="204.72" x2="395.78" y2="204.72" stroke="#777" stroke-width="0.9" />
<rect x="382.19" y="200.05" width="5.2" height="9.34" fill="none" stroke="#222" stroke-width="0.9" />
<rect x="382.89" y="202.82" width="3.8" height="3.8" fill="#000" stroke="none" stroke-width="1" />
<line x1="395.78" y1="200.56" x2="439.72" y2="200.56" stroke="#777" stroke-width="0.9" />
<rect x="415.55" y="193.82" width="4.4" height="14.95" fill="none" stroke="#222" stroke-width="0.9" />
<rect x="415.85" y="198.66" width="3.8" height="3.8" fill="#000" stroke="none" stroke-width="1" />
<line x1="439.72" y1="187.8" x2="505.63" y2="187.8" stroke="#888" stroke-width="1.0" />
<rect x="470.13" y="174.61" width="4" height="30.1" fill="#eeeeee" stroke="#666" stroke-width="1.0" />
<circle cx="472.13" cy="187.8" r="1.8" fill="#fff" stroke="#777" stroke-width="0.8"/>
<rect x="516.3" y="114.5" width="5.7" height="11" fill="#000" stroke="none" stroke-width="1" />
<rect x="307.9" y="14.3" width="219.7" height="209.1" fill="none" stroke="#8a8a8a" stroke-width="1.0" />
<path d="M307.9 223.4v-6.3M307.9 14.3v6.3M335.36 223.4v-6.3M335.36 14.3v6.3M362.82 223.4v-6.3M362.82 14.3v6.3M390.29 223.4v-6.3M390.29 14.3v6.3M417.75 223.4v-6.3M417.75 14.3v6.3M445.21 223.4v-6.3M445.21 14.3v6.3M472.68 223.4v-6.3M472.68 14.3v6.3M500.14 223.4v-6.3M500.14 14.3v6.3M527.6 223.4v-6.3M527.6 14.3v6.3M307.9 223.4v-2.8M307.9 14.3v2.8M313.39 223.4v-2.8M313.39 14.3v2.8M318.88 223.4v-2.8M318.88 14.3v2.8M324.38 223.4v-2.8M324.38 14.3v2.8M329.87 223.4v-2.8M329.87 14.3v2.8M335.36 223.4v-2.8M335.36 14.3v2.8M340.85 223.4v-2.8M340.85 14.3v2.8M346.35 223.4v-2.8M346.35 14.3v2.8M351.84 223.4v-2.8M351.84 14.3v2.8M357.33 223.4v-2.8M357.33 14.3v2.8M362.82 223.4v-2.8M362.82 14.3v2.8M368.32 223.4v-2.8M368.32 14.3v2.8M373.81 223.4v-2.8M373.81 14.3v2.8M379.3 223.4v-2.8M379.3 14.3v2.8M384.79 223.4v-2.8M384.79 14.3v2.8M390.29 223.4v-2.8M390.29 14.3v2.8M395.78 223.4v-2.8M395.78 14.3v2.8M401.27 223.4v-2.8M401.27 14.3v2.8M406.76 223.4v-2.8M406.76 14.3v2.8M412.26 223.4v-2.8M412.26 14.3v2.8M417.75 223.4v-2.8M417.75 14.3v2.8M423.24 223.4v-2.8M423.24 14.3v2.8M428.74 223.4v-2.8M428.74 14.3v2.8M434.23 223.4v-2.8M434.23 14.3v2.8M439.72 223.4v-2.8M439.72 14.3v2.8M445.21 223.4v-2.8M445.21 14.3v2.8M450.7 223.4v-2.8M450.7 14.3v2.8M456.2 223.4v-2.8M456.2 14.3v2.8M461.69 223.4v-2.8M461.69 14.3v2.8M467.18 223.4v-2.8M467.18 14.3v2.8M472.68 223.4v-2.8M472.68 14.3v2.8M478.17 223.4v-2.8M478.17 14.3v2.8M483.66 223.4v-2.8M483.66 14.3v2.8M489.15 223.4v-2.8M489.15 14.3v2.8M494.64 223.4v-2.8M494.64 14.3v2.8M500.14 223.4v-2.8M500.14 14.3v2.8M505.63 223.4v-2.8M505.63 14.3v2.8M511.12 223.4v-2.8M511.12 14.3v2.8M516.62 223.4v-2.8M516.62 14.3v2.8M522.11 223.4v-2.8M522.11 14.3v2.8M527.6 223.4v-2.8M527.6 14.3v2.8M307.9 223.4h6.3M527.6 223.4h-6.3M307.9 202.64h6.3M527.6 202.64h-6.3M307.9 181.88h6.3M527.6 181.88h-6.3M307.9 161.12h6.3M527.6 161.12h-6.3M307.9 140.36h6.3M527.6 140.36h-6.3M307.9 119.6h6.3M527.6 119.6h-6.3M307.9 98.84h6.3M527.6 98.84h-6.3M307.9 78.08h6.3M527.6 78.08h-6.3M307.9 57.32h6.3M527.6 57.32h-6.3M307.9 36.56h6.3M527.6 36.56h-6.3M307.9 15.8h6.3M527.6 15.8h-6.3M307.9 223.4h2.8M527.6 223.4h-2.8M307.9 218.21h2.8M527.6 218.21h-2.8M307.9 213.02h2.8M527.6 213.02h-2.8M307.9 207.83h2.8M527.6 207.83h-2.8M307.9 202.64h2.8M527.6 202.64h-2.8M307.9 197.45h2.8M527.6 197.45h-2.8M307.9 192.26h2.8M527.6 192.26h-2.8M307.9 187.07h2.8M527.6 187.07h-2.8M307.9 181.88h2.8M527.6 181.88h-2.8M307.9 176.69h2.8M527.6 176.69h-2.8M307.9 171.5h2.8M527.6 171.5h-2.8M307.9 166.31h2.8M527.6 166.31h-2.8M307.9 161.12h2.8M527.6 161.12h-2.8M307.9 155.93h2.8M527.6 155.93h-2.8M307.9 150.74h2.8M527.6 150.74h-2.8M307.9 145.55h2.8M527.6 145.55h-2.8M307.9 140.36h2.8M527.6 140.36h-2.8M307.9 135.17h2.8M527.6 135.17h-2.8M307.9 129.98h2.8M527.6 129.98h-2.8M307.9 124.79h2.8M527.6 124.79h-2.8M307.9 119.6h2.8M527.6 119.6h-2.8M307.9 114.41h2.8M527.6 114.41h-2.8M307.9 109.22h2.8M527.6 109.22h-2.8M307.9 104.03h2.8M527.6 104.03h-2.8M307.9 98.84h2.8M527.6 98.84h-2.8M307.9 93.65h2.8M527.6 93.65h-2.8M307.9 88.46h2.8M527.6 88.46h-2.8M307.9 83.27h2.8M527.6 83.27h-2.8M307.9 78.08h2.8M527.6 78.08h-2.8M307.9 72.89h2.8M527.6 72.89h-2.8M307.9 67.7h2.8M527.6 67.7h-2.8M307.9 62.51h2.8M527.6 62.51h-2.8M307.9 57.32h2.8M527.6 57.32h-2.8M307.9 52.13h2.8M527.6 52.13h-2.8M307.9 46.94h2.8M527.6 46.94h-2.8M307.9 41.75h2.8M527.6 41.75h-2.8M307.9 36.56h2.8M527.6 36.56h-2.8M307.9 31.37h2.8M527.6 31.37h-2.8M307.9 26.18h2.8M527.6 26.18h-2.8M307.9 20.99h2.8M527.6 20.99h-2.8M307.9 15.8h2.8M527.6 15.8h-2.8" stroke="#8a8a8a" stroke-width="1.0" fill="none"/>
<text x="307.9" y="234.6" font-size="11" stroke-width="0.12" text-anchor="middle" >0</text>
<text x="335.36" y="234.6" font-size="11" stroke-width="0.12" text-anchor="middle" >5</text>
<text x="362.82" y="234.6" font-size="11" stroke-width="0.12" text-anchor="middle" >10</text>
<text x="390.29" y="234.6" font-size="11" stroke-width="0.12" text-anchor="middle" >15</text>
<text x="417.75" y="234.6" font-size="11" stroke-width="0.12" text-anchor="middle" >20</text>
<text x="445.21" y="234.6" font-size="11" stroke-width="0.12" text-anchor="middle" >25</text>
<text x="472.68" y="234.6" font-size="11" stroke-width="0.12" text-anchor="middle" >30</text>
<text x="500.14" y="234.6" font-size="11" stroke-width="0.12" text-anchor="middle" >35</text>
<text x="527.6" y="234.6" font-size="11" stroke-width="0.12" text-anchor="middle" >40</text>
<text x="306.2" y="227.9" font-size="11" stroke-width="0.12" text-anchor="end" >0</text>
<text x="306.2" y="207.14" font-size="11" stroke-width="0.12" text-anchor="end" >0.2</text>
<text x="306.2" y="186.38" font-size="11" stroke-width="0.12" text-anchor="end" >0.4</text>
<text x="306.2" y="165.62" font-size="11" stroke-width="0.12" text-anchor="end" >0.6</text>
<text x="306.2" y="144.86" font-size="11" stroke-width="0.12" text-anchor="end" >0.8</text>
<text x="306.2" y="124.1" font-size="11" stroke-width="0.12" text-anchor="end" >1</text>
<text x="306.2" y="103.34" font-size="11" stroke-width="0.12" text-anchor="end" >1.2</text>
<text x="306.2" y="82.58" font-size="11" stroke-width="0.12" text-anchor="end" >1.4</text>
<text x="306.2" y="61.82" font-size="11" stroke-width="0.12" text-anchor="end" >1.6</text>
<text x="306.2" y="41.06" font-size="11" stroke-width="0.12" text-anchor="end" >1.8</text>
<text x="306.2" y="20.3" font-size="11" stroke-width="0.12" text-anchor="end" >2</text>
<text x="456.6" y="250.3" font-size="13" stroke-width="0.12" text-anchor="start" textLength="67.8" lengthAdjust="spacingAndGlyphs" ><tspan font-style="italic">p</tspan><tspan font-size="8.5" dy="5.5">T</tspan><tspan dy="-5.5"> (GeV/</tspan><tspan font-style="italic">c</tspan>)</text>
<text transform="translate(284.3,37) rotate(-90)" font-size="14.5" stroke-width="0.12" ><tspan font-style="italic">R</tspan><tspan font-size="9.8" dy="4.2">AA</tspan></text>
<text x="363.4" y="30.5" font-size="8.8" stroke-width="0.3" text-anchor="start" textLength="26.3" lengthAdjust="spacingAndGlyphs" >ALICE</text>
<text x="314.7" y="41" font-size="8.5" stroke-width="0.3" text-anchor="start" textLength="123.4" lengthAdjust="spacingAndGlyphs" >0-10% Pb-Pb, &#160;&#160;&#160;<tspan font-style="italic">s</tspan><tspan font-size="6" dy="2">NN</tspan><tspan dy="-2"> = 2.76 TeV</tspan></text>
<path d="M374 38.2L374.8 37.41L375.9 42.2L376.7 33.3L391.1 33.3" fill="none" stroke="#111" stroke-width="0.8"/>
<circle cx="321.2" cy="51.5" r="1.9" fill="#000"/>
<text x="325" y="54.4" font-size="8.5" stroke-width="0.3" text-anchor="start" textLength="105.2" lengthAdjust="spacingAndGlyphs" >Average D<tspan font-size="6" dy="-3.5">0</tspan><tspan dy="3.5">, D</tspan><tspan font-size="6" dy="-3.5">+</tspan><tspan dy="3.5">, D</tspan><tspan font-size="6" dy="-3.5">*+</tspan><tspan dy="3.5"> |</tspan><tspan font-style="italic">y</tspan>|&lt;0.5</text>
<circle cx="321.4" cy="63.7" r="1.8" fill="#fff" stroke="#555" stroke-width="0.7"/>
<text x="325.4" y="65.7" font-size="6.6" stroke-width="0.18" text-anchor="start" textLength="83.8" lengthAdjust="spacingAndGlyphs" >with pp <tspan font-style="italic">p</tspan><tspan font-size="4.5" dy="1.8">T</tspan><tspan dy="-1.8">-extrap. reference</tspan></text>
<line x1="318.3" y1="75.6" x2="325.5" y2="75.6" stroke="#ee3c3c" stroke-width="0.9" />
<text x="327.4" y="77.7" font-size="6.6" stroke-width="0.18" text-anchor="start" textLength="88.3" lengthAdjust="spacingAndGlyphs" >NLO(MNR) with EPS09 shad.</text>
<line x1="438.4" y1="47.3" x2="458.1" y2="47.3" stroke="#f06a28" stroke-width="1.4" stroke-dasharray="2.6 1.7"/>
<text x="462.3" y="48.8" font-size="7.6" stroke-width="0.18" text-anchor="start" >TAMU elastic</text>
<line x1="438.4" y1="53.86" x2="458.1" y2="53.86" stroke="#1a1a8c" stroke-width="1.2" stroke-dasharray="2.6 1.1 0.9 1.1"/>
<text x="462.3" y="55.36" font-size="7.6" stroke-width="0.18" text-anchor="start" >Cao, Qin, Bass</text>
<line x1="438.4" y1="60.41" x2="458.1" y2="60.41" stroke="#3cc0e0" stroke-width="1.3" stroke-dasharray="1 1.1"/>
<text x="462.3" y="61.91" font-size="7.6" stroke-width="0.18" text-anchor="start" >WHDG rad+coll</text>
<line x1="438.4" y1="66.97" x2="458.1" y2="66.97" stroke="#3f80d8" stroke-width="1.2" stroke-dasharray="2 1.1 0.8 1.1 0.8 1.1"/>
<text x="462.3" y="68.47" font-size="7.6" stroke-width="0.18" text-anchor="start" >MC@sHQ+EPOS</text>
<line x1="438.4" y1="73.53" x2="458.1" y2="73.53" stroke="#b53aae" stroke-width="1.7" stroke-dasharray="6 2 1.2 2"/>
<text x="462.3" y="75.03" font-size="7.6" stroke-width="0.18" text-anchor="start" >POWLANG</text>
<line x1="438.4" y1="80.09" x2="458.1" y2="80.09" stroke="#a0a035" stroke-width="1.4" stroke-dasharray="3.2 1.1 1 1.1"/>
<text x="462.3" y="81.59" font-size="7.6" stroke-width="0.18" text-anchor="start" >BAMPS el.</text>
<line x1="438.4" y1="86.64" x2="458.1" y2="86.64" stroke="#cccc94" stroke-width="1.7" />
<text x="462.3" y="88.14" font-size="7.6" stroke-width="0.18" text-anchor="start" >BAMPS el.+rad</text>
<line x1="438.4" y1="93.2" x2="458.1" y2="93.2" stroke="#179a4e" stroke-width="1.7" stroke-dasharray="1.2 1.0"/>
<text x="462.3" y="94.7" font-size="7.6" stroke-width="0.18" text-anchor="start" >PHSD</text>
<line x1="33.9" y1="325.3" x2="236.94" y2="325.3" stroke="#555" stroke-width="0.9" stroke-dasharray="1.2 1.8"/>
<polyline points="44.55,265.62 47.19,284.23 49.83,302.99 52.48,323.3 55.12,342.25 57.76,354.92 60.41,365.21 63.05,373.58 65.7,380.18 68.34,385.72 70.98,390.54 73.63,394.67 76.27,398.16 78.91,401.1 81.56,403.91 84.2,406.62 86.85,409.14 89.49,411.38 92.13,413.25 94.78,414.66 97.42,415.52 100.06,415.84 102.71,416.02 105.35,416.15 108,416.25 110.64,416.36 113.28,416.47 115.93,416.64 118.57,416.89 121.21,417.21 123.86,417.56 126.5,417.88 129.14,418.12 131.79,418.25 134.43,418.19 137.08,417.96 139.72,417.58 142.36,417.11 145.01,416.57 147.65,416.02 150.29,415.46 152.94,414.74 155.58,413.87 158.23,412.96 160.87,412.07 163.51,411.3 166.16,410.73 168.8,410.34 171.44,409.96 174.09,409.61 176.73,409.28 179.38,408.98 182.02,408.72 184.66,408.52 187.31,408.36 189.95,408.28 192.59,408.26 195.24,408.41 197.88,408.72 200.53,409.12 203.17,409.55 205.81,409.95 208.46,410.26 211.1,410.45 213.74,410.63 216.39,410.79 219.03,410.9 221.68,410.94 224.32,410.4 226.96,409.06 229.61,407.22 232.25,405.17 234.89,403.21 237.54,401.64 240.18,400.75 242.83,400.67 245.47,400.83 248.11,401.21 250.76,401.88 253.4,402.88" fill="none" stroke="#cccc94" stroke-width="1.7"  stroke-linejoin="round" />
<polyline points="38.07,294.42 40.05,288.57 42.02,286.07 44,285.71 45.97,289.77 47.95,297.49 49.92,311.62 51.9,328.59 53.87,343.13 55.85,355.14 57.83,364.38 59.8,372.54 61.78,379.65 63.75,385.72 65.73,390.77 67.7,395.16 69.68,399.07 71.65,402.59 73.63,405.79 75.6,408.74 77.58,411.53 79.56,414.26 81.53,416.92 83.51,419.45 85.48,421.76 87.46,423.75 89.43,425.36 91.41,426.58 93.38,427.68 95.36,428.71 97.34,429.64 99.31,430.48 101.29,431.2 103.26,431.79 105.24,432.26 107.21,432.59 109.19,432.84 111.16,433.08 113.14,433.3 115.12,433.49 117.09,433.65 119.07,433.78 121.04,433.87 123.02,433.91 124.99,433.91 126.97,433.89 128.94,433.84 130.92,433.76 132.89,433.67 134.87,433.57 136.85,433.45 138.82,433.32 140.8,433.18 142.77,433.04 144.75,432.9 146.72,432.75 148.7,432.61 150.67,432.46 152.65,432.31 154.62,432.15 156.6,431.98 158.58,431.8 160.55,431.6 162.53,431.4 164.5,431.19 166.48,430.96 168.45,430.73 170.43,430.48 172.4,430.23 174.38,429.96 176.36,429.67 178.33,429.38 180.31,429.07 182.28,428.72 184.26,428.32 186.23,427.88 188.21,427.41 190.18,426.91 192.16,426.39 194.13,425.86" fill="none" stroke="#a0a035" stroke-width="1.4" stroke-dasharray="3.2 1.1 1 1.1" stroke-linejoin="round" />
<polyline points="34.23,413.33 37,404.19 39.78,393.47 42.55,381.01 45.33,367.36 48.1,352.84 50.88,341.07 53.65,335.76 56.42,332.82 59.2,333.25 61.97,336.01 64.75,343.94 67.52,355.92 70.3,363.75 73.07,372.31 75.84,381.64 78.62,391.37 81.39,402.11 84.17,410.78 86.94,415.59 89.72,419.2 92.49,422.09 95.26,424.59 98.04,426.92 100.81,429 103.59,430.86 106.36,432.55 109.14,434.09 111.91,435.46 114.68,436.7 117.46,437.88 120.23,439.12 123.01,440.54 125.78,442.08 128.56,443.42 131.33,444.27 134.1,444.84 136.88,445.26 139.65,445.56 142.43,445.82 145.2,446.02 147.98,446.14 150.75,446.06 153.52,445.63 156.3,445.08 159.07,444.7 161.85,444.81 164.62,445.58 167.4,446.74 170.17,448.04 172.94,449.19 175.72,449.92 178.49,450.35 181.27,450.68 184.04,450.98 186.82,451.29 189.59,451.62 192.37,451.94 195.14,452.25 197.91,452.57 200.69,452.89 203.46,453.23 206.24,453.6 209.01,454.01 211.79,454.55 214.56,455.2 217.33,455.91 220.11,456.58 222.88,457.14 225.66,457.52 228.43,457.64 231.21,457.2 233.98,456.32 236.75,455.42 239.53,454.8 242.3,454.26 245.08,453.76 247.85,453.31 250.63,452.91 253.4,452.57" fill="none" stroke="#b53aae" stroke-width="1.7" stroke-dasharray="6 2 1.2 2" stroke-linejoin="round" />
<polyline points="36.53,403.78 39.28,383.99 42.02,366.78 44.77,353.41 47.51,342.3 50.26,338.49 53,338 55.75,341.69 58.5,352.56 61.24,365.73 63.99,380.85 66.73,388.35 69.48,393.09 72.22,396.74 74.97,399.79 77.71,402.78 80.46,405.89 83.2,408.85 85.95,411.52 88.69,413.79 91.44,415.59 94.18,417.29 96.93,418.89 99.67,420.29 102.42,421.42 105.16,422.17 107.91,422.48 110.65,422.66 113.4,422.81 116.14,422.95 118.89,423.06 121.63,423.16 124.38,423.23 127.12,423.28 129.87,423.31 132.61,423.32 135.36,423.28 138.1,423.17 140.85,422.99 143.59,422.78 146.34,422.54 149.08,422.28 151.83,421.94 154.57,421.43 157.32,420.79 160.07,420.05 162.81,419.25 165.56,418.41 168.3,417.58 171.05,416.78 173.79,416.04 176.54,415.41 179.28,414.91 182.03,414.52 184.77,414.17 187.52,413.85 190.26,413.55 193.01,413.27 195.75,413.01 198.5,412.76 201.24,412.52 203.99,412.29 206.73,412.06 209.48,411.84 212.22,411.61 214.97,411.39 217.71,411.18 220.46,410.96 223.2,410.75 225.95,410.55 228.69,410.35 231.44,410.16 234.18,409.97 236.93,409.79 239.67,409.62 242.42,409.45 245.16,409.29 247.91,409.13 250.65,408.99 253.4,408.85" fill="none" stroke="#179a4e" stroke-width="1.7" stroke-dasharray="1.2 1.0" stroke-linejoin="round" />
<polyline points="35.44,429.74 38.06,420.23 40.68,410.87 43.3,401.62 45.92,392.35 48.54,383.85 51.16,376.03 53.78,369.18 56.4,363.67 59.02,358.78 61.64,356.56 64.26,356.07 66.88,355.89 69.5,357.03 72.12,359.85 74.74,363.58 77.36,367.48 79.98,370.81 82.6,373.88 85.22,376.99 87.84,380.14 90.46,383.35 93.08,386.76 95.7,390.17 98.32,393.17 100.94,395.86 103.56,398.36 106.18,400.63 108.8,402.63 111.42,404.47 114.04,406.18 116.66,407.65 119.28,408.81 121.9,409.71 124.52,410.51 127.14,411.15 129.76,411.62 132.38,411.92 135,412.14 137.62,412.31 140.24,412.49 142.86,412.72 145.48,413.02 148.1,413.39 150.72,413.82 153.34,414.3 155.96,414.8 158.58,415.31 161.2,415.83 163.82,416.33 166.44,416.8 169.06,417.24 171.68,417.61 174.3,417.91 176.92,418.13 179.54,418.24 182.16,418.29 184.78,418.33 187.4,418.36 190.02,418.38 192.64,418.4 195.26,418.42 197.88,418.44 200.5,418.46 203.12,418.48 205.74,418.5 208.36,418.53 210.98,418.57 213.6,418.61 216.22,418.66 218.84,418.71 221.46,418.76 224.08,418.82 226.7,418.88 229.32,418.94 231.94,419.01 234.56,419.08 237.18,419.15 239.8,419.22 242.43,419.3" fill="none" stroke="#3f80d8" stroke-width="1.2" stroke-dasharray="2 1.1 0.8 1.1 0.8 1.1" stroke-linejoin="round" />
<polyline points="38.95,416.76 41.66,408.41 44.38,399.19 47.09,387.33 49.81,375.99 52.52,372.32 55.24,370.44 57.95,370.54 60.67,375.17 63.38,381.19 66.09,389.13 68.81,396.48 71.52,401.75 74.24,406.62 76.95,410.94 79.67,414.51 82.38,417.16 85.1,418.95 87.81,420.58 90.53,422.07 93.24,423.36 95.95,424.43 98.67,425.24 101.38,425.72 104.1,425.86 106.81,425.83 109.53,425.76 112.24,425.66 114.96,425.54 117.67,425.42 120.39,425.31 123.1,425.22 125.81,425.14 128.53,425.07 131.24,425.01 133.96,424.94 136.67,424.87 139.39,424.79 142.1,424.7 144.82,424.59 147.53,424.46 150.25,424.28 152.96,423.92 155.68,423.37 158.39,422.66 161.1,421.82 163.82,420.91 166.53,419.94 169.25,418.96 171.96,418.01 174.68,417.12 177.39,416.33 180.11,415.66 182.82,415.09 185.54,414.55 188.25,414.04 190.96,413.56 193.68,413.09 196.39,412.63 199.11,412.18 201.82,411.72 204.54,411.25 207.25,410.76 209.97,410.25 212.68,409.73 215.4,409.21 218.11,408.68 220.83,408.14 223.54,407.61 226.25,407.06 228.97,406.52 231.68,405.96 234.4,405.41 237.11,404.85 239.83,404.28 242.54,403.72 245.26,403.14 247.97,402.56 250.69,401.98 253.4,401.39" fill="none" stroke="#1a1a8c" stroke-width="1.2" stroke-dasharray="2.6 1.1 0.9 1.1" stroke-linejoin="round" />
<polyline points="38.29,382 41.01,368.54 43.74,359.35 46.46,355.18 49.18,356.44 51.9,358.47 54.63,361.23 57.35,364.7 60.07,368.33 62.8,372.28 65.52,376.51 68.24,380.79 70.96,385.22 73.69,390.25 76.41,395.32 79.13,399.85 81.86,403.25 84.58,405.14 87.3,406.65 90.03,407.94 92.75,408.94 95.47,409.57 98.19,409.74 100.92,409.54 103.64,409.09 106.36,408.46 109.09,407.73 111.81,406.97 114.53,406.26 117.25,405.64 119.98,405.05 122.7,404.46 125.42,403.85 128.15,403.25 130.87,402.65 133.59,402.05 136.31,401.47 139.04,400.89 141.76,400.32 144.48,399.75 147.21,399.17 149.93,398.59 152.65,398.01 155.38,397.43 158.1,396.86 160.82,396.3 163.54,395.75 166.27,395.21 168.99,394.7 171.71,394.2 174.44,393.73 177.16,393.29 179.88,392.89 182.6,392.51 185.33,392.17 188.05,391.85 190.77,391.55 193.5,391.27 196.22,390.98 198.94,390.7 201.66,390.41 204.39,390.1 207.11,389.77 209.83,389.41 212.56,388.99 215.28,388.52 218,388.01 220.73,387.47 223.45,386.94 226.17,386.43 228.89,385.95 231.62,385.54 234.34,385.21 237.06,384.97 239.79,384.79 242.51,384.62 245.23,384.47 247.95,384.35 250.68,384.27 253.4,384.23" fill="none" stroke="#f06a28" stroke-width="1.4" stroke-dasharray="2.6 1.7" stroke-linejoin="round" />
<polyline points="43.78,384.98 46.43,377.46 49.08,370.54 51.74,364.87 54.39,365.7 57.04,367.93 59.7,370.68 62.35,374.83 65.01,380.17 67.66,385.55 70.31,390.13 72.97,394.84 75.62,399.51 78.27,403.71 80.93,407.02 83.58,409 86.23,410.29 88.89,411.42 91.54,412.34 94.19,412.98 96.85,413.3 99.5,413.28 102.15,413.03 104.81,412.63 107.46,412.12 110.11,411.56 112.77,410.99 115.42,410.48 118.07,410.03 120.73,409.59 123.38,409.14 126.03,408.69 128.69,408.23 131.34,407.78 133.99,407.33 136.65,406.88 139.3,406.43 141.96,405.99 144.61,405.56 147.26,405.12 149.92,404.69 152.57,404.25 155.22,403.82 157.88,403.39 160.53,402.96 163.18,402.54 165.84,402.11 168.49,401.69 171.14,401.27 173.8,400.85 176.45,400.43 179.1,400.02 181.76,399.61 184.41,399.19 187.06,398.78 189.72,398.37 192.37,397.97 195.02,397.56 197.68,397.16 200.33,396.76 202.98,396.37 205.64,395.98 208.29,395.6 210.94,395.22 213.6,394.83 216.25,394.44 218.91,394.06 221.56,393.68 224.21,393.32 226.87,392.98 229.52,392.66 232.17,392.36 234.83,392.09 237.48,391.82 240.13,391.56 242.79,391.32 245.44,391.09 248.09,390.88 250.75,390.68 253.4,390.5" fill="none" stroke="#f06a28" stroke-width="1.4" stroke-dasharray="2.6 1.7" stroke-linejoin="round" />
<polyline points="44.88,399.9 47.51,390.09 50.15,383.46 52.79,382.06 55.43,382.9 58.07,384.34 60.71,386.22 63.35,389.31 65.99,392.98 68.63,396.47 71.27,399.53 73.91,402.7 76.55,405.78 79.19,408.56 81.83,410.86 84.47,412.54 87.11,414.09 89.75,415.51 92.39,416.69 95.03,417.49 97.67,417.8 100.31,417.7 102.95,417.41 105.58,416.98 108.22,416.45 110.86,415.89 113.5,415.33 116.14,414.83 118.78,414.37 121.42,413.9 124.06,413.41 126.7,412.92 129.34,412.42 131.98,411.93 134.62,411.45 137.26,410.97 139.9,410.51 142.54,410.07 145.18,409.63 147.82,409.19 150.46,408.75 153.1,408.31 155.74,407.88 158.38,407.45 161.02,407.03 163.66,406.62 166.29,406.22 168.93,405.83 171.57,405.46 174.21,405.1 176.85,404.75 179.49,404.42 182.13,404.11 184.77,403.82 187.41,403.53 190.05,403.27 192.69,403.01 195.33,402.75 197.97,402.5 200.61,402.25 203.25,402 205.89,401.75 208.53,401.49 211.17,401.22 213.81,400.96 216.45,400.69 219.09,400.42 221.73,400.15 224.36,399.88 227,399.61 229.64,399.35 232.28,399.08 234.92,398.81 237.56,398.54 240.2,398.27 242.84,398 245.48,397.73 248.12,397.46 250.76,397.19 253.4,396.92" fill="none" stroke="#f06a28" stroke-width="1.4" stroke-dasharray="2.6 1.7" stroke-linejoin="round" />
<rect x="47.27" y="307.55" width="6.4" height="88.03" fill="none" stroke="#111" stroke-width="1.0" />
<line x1="44.88" y1="346.34" x2="55.85" y2="346.34" stroke="#111" stroke-width="1.0" />
<line x1="50.47" y1="303.82" x2="50.47" y2="362.6" stroke="#111" stroke-width="1.0" />
<circle cx="50.47" cy="346.34" r="2.3" fill="#000"/>
<rect x="57.94" y="319.63" width="6.8" height="78.48" fill="none" stroke="#111" stroke-width="1.0" />
<line x1="55.85" y1="350.81" x2="66.82" y2="350.81" stroke="#111" stroke-width="1.0" />
<line x1="61.34" y1="334.25" x2="61.34" y2="367.08" stroke="#111" stroke-width="1.0" />
<circle cx="61.34" cy="350.81" r="2.3" fill="#000"/>
<rect x="69.13" y="369.61" width="6.8" height="46.7" fill="none" stroke="#111" stroke-width="1.0" />
<line x1="66.82" y1="389.46" x2="77.8" y2="389.46" stroke="#111" stroke-width="1.0" />
<line x1="72.53" y1="379.01" x2="72.53" y2="399.9" stroke="#111" stroke-width="1.0" />
<circle cx="72.53" cy="389.46" r="2.3" fill="#000"/>
<rect x="79.69" y="396.92" width="7.2" height="32.08" fill="none" stroke="#111" stroke-width="1.0" />
<line x1="77.8" y1="411.09" x2="88.78" y2="411.09" stroke="#111" stroke-width="1.0" />
<line x1="83.29" y1="402.88" x2="83.29" y2="419.3" stroke="#111" stroke-width="1.0" />
<circle cx="83.29" cy="411.09" r="2.3" fill="#000"/>
<rect x="90.53" y="394.53" width="6.8" height="31.63" fill="none" stroke="#111" stroke-width="1.0" />
<line x1="88.78" y1="409.75" x2="99.75" y2="409.75" stroke="#111" stroke-width="1.0" />
<line x1="93.93" y1="399.9" x2="93.93" y2="419.3" stroke="#111" stroke-width="1.0" />
<circle cx="93.93" cy="409.75" r="2.3" fill="#000"/>
<rect x="107.42" y="410.34" width="6.6" height="25.51" fill="none" stroke="#111" stroke-width="1.0" />
<line x1="99.75" y1="422.73" x2="121.7" y2="422.73" stroke="#111" stroke-width="1.0" />
<line x1="110.72" y1="416.31" x2="110.72" y2="429.74" stroke="#111" stroke-width="1.0" />
<circle cx="110.72" cy="422.73" r="2.3" fill="#000"/>
<rect x="140.68" y="411.39" width="6.6" height="24.47" fill="none" stroke="#111" stroke-width="1.0" />
<line x1="121.7" y1="423.77" x2="165.6" y2="423.77" stroke="#111" stroke-width="1.0" />
<line x1="143.98" y1="417.8" x2="143.98" y2="429.74" stroke="#111" stroke-width="1.0" />
<circle cx="143.98" cy="423.77" r="2.3" fill="#000"/>
<rect x="184.15" y="386.47" width="6.8" height="34.76" fill="none" stroke="#111" stroke-width="1.0" />
<line x1="165.6" y1="403.63" x2="209.5" y2="403.63" stroke="#111" stroke-width="1.0" />
<line x1="187.55" y1="392.44" x2="187.55" y2="413.33" stroke="#111" stroke-width="1.0" />
<circle cx="187.55" cy="403.63" r="2.3" fill="#000"/>
<rect x="239.7" y="316.5" width="5.4" height="16.8" fill="#000" stroke="none" stroke-width="1" />
<rect x="33.9" y="265.3" width="219.5" height="209.2" fill="none" stroke="#8a8a8a" stroke-width="1.0" />
<path d="M33.9 474.5v-5.5M33.9 265.3v5.5M55.85 474.5v-5.5M55.85 265.3v5.5M77.8 474.5v-5.5M77.8 265.3v5.5M99.75 474.5v-5.5M99.75 265.3v5.5M121.7 474.5v-5.5M121.7 265.3v5.5M143.65 474.5v-5.5M143.65 265.3v5.5M165.6 474.5v-5.5M165.6 265.3v5.5M187.55 474.5v-5.5M187.55 265.3v5.5M209.5 474.5v-5.5M209.5 265.3v5.5M231.45 474.5v-5.5M231.45 265.3v5.5M253.4 474.5v-5.5M253.4 265.3v5.5M33.9 474.5v-2.8M33.9 265.3v2.8M39.39 474.5v-2.8M39.39 265.3v2.8M44.88 474.5v-2.8M44.88 265.3v2.8M50.36 474.5v-2.8M50.36 265.3v2.8M55.85 474.5v-2.8M55.85 265.3v2.8M61.34 474.5v-2.8M61.34 265.3v2.8M66.82 474.5v-2.8M66.82 265.3v2.8M72.31 474.5v-2.8M72.31 265.3v2.8M77.8 474.5v-2.8M77.8 265.3v2.8M83.29 474.5v-2.8M83.29 265.3v2.8M88.78 474.5v-2.8M88.78 265.3v2.8M94.26 474.5v-2.8M94.26 265.3v2.8M99.75 474.5v-2.8M99.75 265.3v2.8M105.24 474.5v-2.8M105.24 265.3v2.8M110.72 474.5v-2.8M110.72 265.3v2.8M116.21 474.5v-2.8M116.21 265.3v2.8M121.7 474.5v-2.8M121.7 265.3v2.8M127.19 474.5v-2.8M127.19 265.3v2.8M132.68 474.5v-2.8M132.68 265.3v2.8M138.16 474.5v-2.8M138.16 265.3v2.8M143.65 474.5v-2.8M143.65 265.3v2.8M149.14 474.5v-2.8M149.14 265.3v2.8M154.62 474.5v-2.8M154.62 265.3v2.8M160.11 474.5v-2.8M160.11 265.3v2.8M165.6 474.5v-2.8M165.6 265.3v2.8M171.09 474.5v-2.8M171.09 265.3v2.8M176.58 474.5v-2.8M176.58 265.3v2.8M182.06 474.5v-2.8M182.06 265.3v2.8M187.55 474.5v-2.8M187.55 265.3v2.8M193.04 474.5v-2.8M193.04 265.3v2.8M198.53 474.5v-2.8M198.53 265.3v2.8M204.01 474.5v-2.8M204.01 265.3v2.8M209.5 474.5v-2.8M209.5 265.3v2.8M214.99 474.5v-2.8M214.99 265.3v2.8M220.47 474.5v-2.8M220.47 265.3v2.8M225.96 474.5v-2.8M225.96 265.3v2.8M231.45 474.5v-2.8M231.45 265.3v2.8M236.94 474.5v-2.8M236.94 265.3v2.8M242.43 474.5v-2.8M242.43 265.3v2.8M247.91 474.5v-2.8M247.91 265.3v2.8M253.4 474.5v-2.8M253.4 265.3v2.8M33.9 474.5h5.5M253.4 474.5h-5.5M33.9 444.66h5.5M253.4 444.66h-5.5M33.9 414.82h5.5M253.4 414.82h-5.5M33.9 384.98h5.5M253.4 384.98h-5.5M33.9 355.14h5.5M253.4 355.14h-5.5M33.9 325.3h5.5M253.4 325.3h-5.5M33.9 295.46h5.5M253.4 295.46h-5.5M33.9 265.62h5.5M253.4 265.62h-5.5M33.9 474.5h2.8M253.4 474.5h-2.8M33.9 467.04h2.8M253.4 467.04h-2.8M33.9 459.58h2.8M253.4 459.58h-2.8M33.9 452.12h2.8M253.4 452.12h-2.8M33.9 444.66h2.8M253.4 444.66h-2.8M33.9 437.2h2.8M253.4 437.2h-2.8M33.9 429.74h2.8M253.4 429.74h-2.8M33.9 422.28h2.8M253.4 422.28h-2.8M33.9 414.82h2.8M253.4 414.82h-2.8M33.9 407.36h2.8M253.4 407.36h-2.8M33.9 399.9h2.8M253.4 399.9h-2.8M33.9 392.44h2.8M253.4 392.44h-2.8M33.9 384.98h2.8M253.4 384.98h-2.8M33.9 377.52h2.8M253.4 377.52h-2.8M33.9 370.06h2.8M253.4 370.06h-2.8M33.9 362.6h2.8M253.4 362.6h-2.8M33.9 355.14h2.8M253.4 355.14h-2.8M33.9 347.68h2.8M253.4 347.68h-2.8M33.9 340.22h2.8M253.4 340.22h-2.8M33.9 332.76h2.8M253.4 332.76h-2.8M33.9 325.3h2.8M253.4 325.3h-2.8M33.9 317.84h2.8M253.4 317.84h-2.8M33.9 310.38h2.8M253.4 310.38h-2.8M33.9 302.92h2.8M253.4 302.92h-2.8M33.9 295.46h2.8M253.4 295.46h-2.8M33.9 288h2.8M253.4 288h-2.8M33.9 280.54h2.8M253.4 280.54h-2.8M33.9 273.08h2.8M253.4 273.08h-2.8M33.9 265.62h2.8M253.4 265.62h-2.8" stroke="#8a8a8a" stroke-width="1.0" fill="none"/>
<text x="33.9" y="486" font-size="10.8" stroke-width="0.22" text-anchor="middle" >0</text>
<text x="55.85" y="486" font-size="10.8" stroke-width="0.22" text-anchor="middle" >2</text>
<text x="77.8" y="486" font-size="10.8" stroke-width="0.22" text-anchor="middle" >4</text>
<text x="99.75" y="486" font-size="10.8" stroke-width="0.22" text-anchor="middle" >6</text>
<text x="121.7" y="486" font-size="10.8" stroke-width="0.22" text-anchor="middle" >8</text>
<text x="143.65" y="486" font-size="10.8" stroke-width="0.22" text-anchor="middle" >10</text>
<text x="165.6" y="486" font-size="10.8" stroke-width="0.22" text-anchor="middle" >12</text>
<text x="187.55" y="486" font-size="10.8" stroke-width="0.22" text-anchor="middle" >14</text>
<text x="209.5" y="486" font-size="10.8" stroke-width="0.22" text-anchor="middle" >16</text>
<text x="231.45" y="486" font-size="10.8" stroke-width="0.22" text-anchor="middle" >18</text>
<text x="253.4" y="486" font-size="10.8" stroke-width="0.22" text-anchor="middle" >20</text>
<text x="31.6" y="478.8" font-size="10.8" stroke-width="0.22" text-anchor="end" >0</text>
<text x="31.6" y="448.96" font-size="10.8" stroke-width="0.22" text-anchor="end" >0.2</text>
<text x="31.6" y="419.12" font-size="10.8" stroke-width="0.22" text-anchor="end" >0.4</text>
<text x="31.6" y="389.28" font-size="10.8" stroke-width="0.22" text-anchor="end" >0.6</text>
<text x="31.6" y="359.44" font-size="10.8" stroke-width="0.22" text-anchor="end" >0.8</text>
<text x="31.6" y="329.6" font-size="10.8" stroke-width="0.22" text-anchor="end" >1</text>
<text x="31.6" y="299.76" font-size="10.8" stroke-width="0.22" text-anchor="end" >1.2</text>
<text x="31.6" y="269.92" font-size="10.8" stroke-width="0.22" text-anchor="end" >1.4</text>
<text x="182.4" y="500.8" font-size="13" stroke-width="0.12" text-anchor="start" textLength="67.3" lengthAdjust="spacingAndGlyphs" ><tspan font-style="italic">p</tspan><tspan font-size="8.5" dy="6.2">T</tspan><tspan dy="-6.2"> (GeV/</tspan><tspan font-style="italic">c</tspan>)</text>
<text transform="translate(10,288.4) rotate(-90)" font-size="13" stroke-width="0.12" ><tspan font-style="italic">R</tspan><tspan font-size="9.8" dy="4.2">AA</tspan></text>
<text x="108.3" y="279.7" font-size="9" stroke-width="0.3" text-anchor="start" textLength="26.2" lengthAdjust="spacingAndGlyphs" >ALICE</text>
<text x="56.7" y="290" font-size="8.7" stroke-width="0.3" text-anchor="start" textLength="130" lengthAdjust="spacingAndGlyphs" >30-50% Pb-Pb, &#160;&#160;<tspan font-style="italic">s</tspan><tspan font-size="6.2" dy="3">NN</tspan><tspan dy="-3"> = 2.76 TeV</tspan></text>
<path d="M120.8 288.08L121.6 287.18L122.7 292.5L123.5 282.5L138.9 282.5" fill="none" stroke="#111" stroke-width="0.8"/>
<circle cx="59.9" cy="301.7" r="2.1" fill="#000"/>
<text x="64" y="304.6" font-size="8.7" stroke-width="0.3" text-anchor="start" textLength="111.5" lengthAdjust="spacingAndGlyphs" >Average D<tspan font-size="6" dy="-3.5">0</tspan><tspan dy="3.5">, D</tspan><tspan font-size="6" dy="-3.5">+</tspan><tspan dy="3.5">, D</tspan><tspan font-size="6" dy="-3.5">*+</tspan><tspan dy="3.5">, |</tspan><tspan font-style="italic">y</tspan>|&lt;0.5</text>
<line x1="143.2" y1="331.6" x2="165.5" y2="331.6" stroke="#f06a28" stroke-width="1.4" stroke-dasharray="2.6 1.7"/>
<text x="171.3" y="333.7" font-size="8.5" stroke-width="0.3" text-anchor="start" >TAMU elastic</text>
<line x1="143.2" y1="339.15" x2="165.5" y2="339.15" stroke="#1a1a8c" stroke-width="1.2" stroke-dasharray="2.6 1.1 0.9 1.1"/>
<text x="171.3" y="341.25" font-size="8.5" stroke-width="0.3" text-anchor="start" >Cao, Qin, Bass</text>
<line x1="143.2" y1="346.7" x2="165.5" y2="346.7" stroke="#3f80d8" stroke-width="1.2" stroke-dasharray="2 1.1 0.8 1.1 0.8 1.1"/>
<text x="171.3" y="348.8" font-size="8.5" stroke-width="0.3" text-anchor="start" >MC@sHQ+EPOS</text>
<line x1="143.2" y1="354.25" x2="165.5" y2="354.25" stroke="#b53aae" stroke-width="1.7" stroke-dasharray="6 2 1.2 2"/>
<text x="171.3" y="356.35" font-size="8.5" stroke-width="0.3" text-anchor="start" >POWLANG</text>
<line x1="143.2" y1="361.8" x2="165.5" y2="361.8" stroke="#a0a035" stroke-width="1.4" stroke-dasharray="3.2 1.1 1 1.1"/>
<text x="171.3" y="363.9" font-size="8.5" stroke-width="0.3" text-anchor="start" >BAMPS el.</text>
<line x1="143.2" y1="369.35" x2="165.5" y2="369.35" stroke="#cccc94" stroke-width="1.7" />
<text x="171.3" y="371.45" font-size="8.5" stroke-width="0.3" text-anchor="start" >BAMPS el.+rad</text>
<line x1="143.2" y1="376.9" x2="165.5" y2="376.9" stroke="#179a4e" stroke-width="1.7" stroke-dasharray="1.2 1.0"/>
<text x="171.3" y="379" font-size="8.5" stroke-width="0.3" text-anchor="start" >PHSD</text>
<line x1="308.3" y1="412.2" x2="525.5" y2="412.2" stroke="#b0b0b0" stroke-width="0.9" />
<rect x="337.17" y="331.76" width="5.4" height="29.11" fill="#cdcdcd" stroke="none" stroke-width="1" />
<rect x="349.66" y="323.62" width="5.2" height="28.8" fill="#cdcdcd" stroke="none" stroke-width="1" />
<rect x="367.94" y="312.35" width="5.2" height="27.86" fill="#cdcdcd" stroke="none" stroke-width="1" />
<rect x="394.55" y="348.35" width="5.4" height="17.53" fill="#cdcdcd" stroke="none" stroke-width="1" />
<rect x="429.74" y="285.12" width="5.3" height="44.45" fill="#cdcdcd" stroke="none" stroke-width="1" />
<polyline points="309.19,410.63 315.07,387.16 322.23,365.88 331.56,352.42 343.44,346.16 355.2,346.78 369.26,350.85 379.87,358.99 396.74,374.01 424.6,378.08 449.52,391.54 468.05,385.59 479.55,382.15" fill="none" stroke="#a0a035" stroke-width="1.4" stroke-dasharray="3.2 1.1 1 1.1" stroke-linejoin="round" />
<polyline points="309.19,410.63 314.69,396.55 321.85,379.96 326.19,374.64 330.03,373.39 339.74,380.27 355.2,387.79 369.9,394.67 384.34,398.74 396.74,394.67 410.16,405.94 420.64,400.31 442.23,400.93 456.55,415.33 473.16,407.19" fill="none" stroke="#c4c48a" stroke-width="2.0"  stroke-linejoin="round" />
<polyline points="310.34,412.2 312,409.03 313.66,405.87 315.31,402.74 316.97,399.63 318.63,396.54 320.28,393.45 321.94,390.17 323.6,386.74 325.25,383.32 326.91,380.06 328.57,377.11 330.22,374.63 331.88,372.76 333.54,371.26 335.19,369.96 336.85,368.8 338.51,367.75 340.16,366.79 341.82,365.85 343.48,364.92 345.13,363.88 346.79,362.79 348.45,361.8 350.1,361.11 351.76,360.87 353.42,360.93 355.07,361.09 356.73,361.32 358.38,361.62 360.04,361.95 361.7,362.31 363.35,362.73 365.01,363.33 366.67,364.08 368.32,364.95 369.98,365.9 371.64,366.89 373.29,367.88 374.95,368.84 376.61,369.73 378.26,370.61 379.92,371.53 381.58,372.47 383.23,373.43 384.89,374.38 386.55,375.33 388.2,376.26 389.86,377.16 391.52,378.01 393.17,378.8 394.83,379.53 396.49,380.18 398.14,380.79 399.8,381.42 401.45,382.05 403.11,382.65 404.77,383.2 406.42,383.67 408.08,384.03 409.74,384.27 411.39,384.34 413.05,384.34 414.71,384.34 416.36,384.34 418.02,384.33 419.68,384.32 421.33,384.31 422.99,384.29 424.65,384.26 426.3,384.22 427.96,384.18 429.62,384.13 431.27,384.06 432.93,383.99 434.59,383.9 436.24,383.8 437.9,383.68 439.56,383.55 441.21,383.4" fill="none" stroke="#179a4e" stroke-width="1.7" stroke-dasharray="1.2 1.0" stroke-linejoin="round" />
<polyline points="310.34,412.2 311.86,409.61 313.37,407.08 314.88,404.6 316.39,402.18 317.9,399.83 319.41,397.53 320.92,395.31 322.43,393.16 323.94,391.08 325.45,389.08 326.97,387.15 328.48,385.18 329.99,383.09 331.5,380.93 333.01,378.79 334.52,376.72 336.03,374.79 337.54,373.07 339.05,371.63 340.56,370.53 342.07,369.84 343.59,369.63 345.1,369.84 346.61,370.33 348.12,371.06 349.63,371.95 351.14,372.94 352.65,373.96 354.16,374.95 355.67,375.85 357.18,376.79 358.7,377.8 360.21,378.86 361.72,379.95 363.23,381.04 364.74,382.1 366.25,383.13 367.76,384.1 369.27,384.98 370.78,385.79 372.29,386.59 373.8,387.37 375.32,388.13 376.83,388.86 378.34,389.58 379.85,390.28 381.36,390.95 382.87,391.61 384.38,392.25 385.89,392.87 387.4,393.47 388.91,394.05 390.43,394.61 391.94,395.15 393.45,395.67 394.96,396.16 396.47,396.65 397.98,397.11 399.49,397.57 401,398.01 402.51,398.45 404.02,398.88 405.53,399.31 407.05,399.73 408.56,400.15 410.07,400.58 411.58,401.01 413.09,401.44 414.6,401.87 416.11,402.29 417.62,402.71 419.13,403.13 420.64,403.54 422.16,403.95 423.67,404.35 425.18,404.75 426.69,405.15 428.2,405.55 429.71,405.94" fill="none" stroke="#f06a28" stroke-width="1.3" stroke-dasharray="2.2 1.5" stroke-linejoin="round" />
<polyline points="310.34,412.2 311.86,409.96 313.37,407.77 314.88,405.62 316.39,403.52 317.9,401.46 319.41,399.46 320.92,397.51 322.43,395.62 323.94,393.78 325.45,392 326.97,390.28 328.48,388.51 329.99,386.62 331.5,384.66 333.01,382.71 334.52,380.82 336.03,379.06 337.54,377.49 339.05,376.16 340.56,375.16 342.07,374.52 343.59,374.33 345.1,374.5 346.61,374.92 348.12,375.53 349.63,376.28 351.14,377.12 352.65,377.98 354.16,378.81 355.67,379.56 357.18,380.34 358.7,381.17 360.21,382.03 361.72,382.92 363.23,383.81 364.74,384.7 366.25,385.56 367.76,386.39 369.27,387.17 370.78,387.91 372.29,388.65 373.8,389.38 375.32,390.1 376.83,390.81 378.34,391.5 379.85,392.18 381.36,392.85 382.87,393.5 384.38,394.14 385.89,394.76 387.4,395.35 388.91,395.93 390.43,396.49 391.94,397.02 393.45,397.54 394.96,398.04 396.47,398.52 397.98,398.99 399.49,399.46 401,399.91 402.51,400.35 404.02,400.78 405.53,401.21 407.05,401.63 408.56,402.05 410.07,402.47 411.58,402.89 413.09,403.3 414.6,403.71 416.11,404.11 417.62,404.51 419.13,404.9 420.64,405.29 422.16,405.67 423.67,406.05 425.18,406.42 426.69,406.79 428.2,407.15 429.71,407.5" fill="none" stroke="#f06a28" stroke-width="1.3" stroke-dasharray="2.2 1.5" stroke-linejoin="round" />
<polyline points="310.34,412.2 312.02,410.02 313.69,407.9 315.36,405.84 317.04,403.83 318.71,401.9 320.38,400.03 322.05,398.23 323.73,396.51 325.4,394.87 327.07,393.32 328.74,391.72 330.42,390.04 332.09,388.33 333.76,386.65 335.44,385.08 337.11,383.67 338.78,382.48 340.45,381.58 342.13,381.04 343.8,380.9 345.47,380.96 347.14,381.1 348.82,381.3 350.49,381.56 352.16,381.85 353.84,382.18 355.51,382.53 357.18,383.09 358.85,383.88 360.53,384.85 362.2,385.94 363.87,387.07 365.54,388.19 367.22,389.23 368.89,390.12 370.56,390.86 372.24,391.57 373.91,392.25 375.58,392.91 377.25,393.54 378.93,394.16 380.6,394.75 382.27,395.33 383.94,395.9 385.62,396.46 387.29,397.02 388.96,397.57 390.64,398.13 392.31,398.71 393.98,399.34 395.65,400.01 397.33,400.68 399,401.35 400.67,402 402.34,402.6 404.02,403.14 405.69,403.61 407.36,403.98 409.04,404.24 410.71,404.37 412.38,404.36 414.05,404.28 415.73,404.15 417.4,403.97 419.07,403.77 420.74,403.56 422.42,403.35 424.09,403.16 425.76,403 427.44,402.88 429.11,402.81 430.78,402.84 432.45,403 434.13,403.29 435.8,403.69 437.47,404.17 439.14,404.72 440.82,405.31 442.49,405.94" fill="none" stroke="#f06a28" stroke-width="1.3" stroke-dasharray="2.2 1.5" stroke-linejoin="round" />
<polyline points="310.34,412.2 313.07,406.01 315.79,400.23 318.52,395.11 321.24,390.91 323.97,387.61 326.69,384.43 329.41,381.43 332.14,378.76 334.86,376.59 337.59,375.07 340.31,374.36 343.04,374.35 345.76,374.42 348.48,374.54 351.21,374.69 353.93,374.87 356.66,375.07 359.38,375.37 362.11,375.75 364.83,376.2 367.55,376.67 370.28,377.16 373,377.61 375.73,378.04 378.45,378.49 381.18,378.96 383.9,379.44 386.62,379.9 389.35,380.36 392.07,380.78 394.8,381.16 397.52,381.5 400.24,381.8 402.97,382.12 405.69,382.43 408.42,382.74 411.14,383.03 413.87,383.31 416.59,383.57 419.31,383.8 422.04,384 424.76,384.16 427.49,384.27 430.21,384.33 432.94,384.34 435.66,384.34 438.38,384.34 441.11,384.34 443.83,384.34 446.56,384.34 449.28,384.34 452.01,384.34 454.73,384.34 457.45,384.34 460.18,384.34 462.9,384.34 465.63,384.34 468.35,384.34 471.08,384.34 473.8,384.34 476.52,384.34 479.25,384.34 481.97,384.36 484.7,384.42 487.42,384.53 490.14,384.67 492.87,384.84 495.59,385.05 498.32,385.29 501.04,385.56 503.77,385.85 506.49,386.16 509.21,386.49 511.94,386.84 514.66,387.2 517.39,387.57 520.11,387.95 522.84,388.34 525.56,388.73" fill="none" stroke="#3f80d8" stroke-width="1.2" stroke-dasharray="2 1.1 0.8 1.1 0.8 1.1" stroke-linejoin="round" />
<polyline points="310.34,412.2 313.07,408.51 315.79,405.21 318.52,402.59 321.24,400.16 323.97,397.85 326.69,395.73 329.41,393.88 332.14,392.37 334.86,391.29 337.59,390.64 340.31,390.12 343.04,389.69 345.76,389.42 348.48,389.35 351.21,389.41 353.93,389.55 356.66,389.75 359.38,390 362.11,390.3 364.83,390.63 367.55,390.98 370.28,391.58 373,392.45 375.73,393.48 378.45,394.54 381.18,395.53 383.9,396.32 386.62,396.85 389.35,397.33 392.07,397.76 394.8,398.16 397.52,398.53 400.24,398.87 402.97,399.18 405.69,399.47 408.42,399.73 411.14,399.98 413.87,400.21 416.59,400.43 419.31,400.65 422.04,400.86 424.76,401.06 427.49,401.25 430.21,401.43 432.94,401.61 435.66,401.78 438.38,401.95 441.11,402.11 443.83,402.27 446.56,402.42 449.28,402.57 452.01,402.71 454.73,402.86 457.45,402.99 460.18,403.13 462.9,403.26 465.63,403.4 468.35,403.53 471.08,403.66 473.8,403.79 476.52,403.92 479.25,404.05 481.97,404.18 484.7,404.3 487.42,404.43 490.14,404.55 492.87,404.67 495.59,404.79 498.32,404.91 501.04,405.02 503.77,405.13 506.49,405.24 509.21,405.35 511.94,405.46 514.66,405.56 517.39,405.66 520.11,405.75 522.84,405.85 525.56,405.94" fill="none" stroke="#2a2a98" stroke-width="1.1" stroke-dasharray="2.4 1.1 0.8 1.1 0.8 1.1" stroke-linejoin="round" />
<polyline points="312.13,411.26 313.06,410.77 313.98,410.27 314.9,409.75 315.82,409.22 316.74,408.68 317.67,408.12 318.59,407.55 319.51,406.97 320.43,406.37 321.36,405.75 322.28,405.06 323.2,404.3 324.12,403.47 325.04,402.6 325.97,401.69 326.89,400.77 327.81,399.85 328.73,398.95 329.65,398.07 330.58,397.24 331.5,396.47 332.42,395.78 333.34,395.18 334.26,394.68 335.19,394.31 336.11,394.07 337.03,393.94 337.95,393.82 338.87,393.71 339.8,393.6 340.72,393.5 341.64,393.41 342.56,393.33 343.49,393.26 344.41,393.21 345.33,393.16 346.25,393.13 347.17,393.11 348.1,393.11 349.02,393.11 349.94,393.12 350.86,393.14 351.78,393.16 352.71,393.18 353.63,393.22 354.55,393.25 355.47,393.29 356.39,393.33 357.32,393.38 358.24,393.43 359.16,393.49 360.08,393.54 361.01,393.6 361.93,393.67 362.85,393.73 363.77,393.8 364.69,393.86 365.62,393.93 366.54,394 367.46,394.08 368.38,394.16 369.3,394.25 370.23,394.36 371.15,394.48 372.07,394.6 372.99,394.74 373.91,394.89 374.84,395.04 375.76,395.21 376.68,395.38 377.6,395.56 378.53,395.74 379.45,395.93 380.37,396.13 381.29,396.33 382.21,396.54 383.14,396.75 384.06,396.96 384.98,397.18" fill="none" stroke="#2a2a98" stroke-width="1.1" stroke-dasharray="2.4 1.1 0.8 1.1 0.8 1.1" stroke-linejoin="round" />
<polyline points="346,399.05 348.27,398.86 350.55,398.66 352.82,398.47 355.09,398.28 357.37,398.09 359.64,397.91 361.91,397.74 364.18,397.57 366.46,397.42 368.73,397.27 371,397.13 373.28,397 375.55,396.88 377.82,396.78 380.09,396.69 382.37,396.62 384.64,396.56 386.91,396.51 389.19,396.46 391.46,396.42 393.73,396.37 396,396.33 398.28,396.29 400.55,396.25 402.82,396.21 405.1,396.18 407.37,396.14 409.64,396.11 411.92,396.08 414.19,396.06 416.46,396.03 418.73,396.01 421.01,395.99 423.28,395.97 425.55,395.96 427.83,395.94 430.1,395.93 432.37,395.93 434.64,395.92 436.92,395.92 439.19,395.93 441.46,395.93 443.74,395.93 446.01,395.94 448.28,395.95 450.55,395.96 452.83,395.97 455.1,395.98 457.37,395.99 459.65,396 461.92,396.02 464.19,396.03 466.46,396.05 468.74,396.07 471.01,396.09 473.28,396.11 475.56,396.13 477.83,396.15 480.1,396.17 482.37,396.19 484.65,396.21 486.92,396.23 489.19,396.26 491.47,396.29 493.74,396.32 496.01,396.36 498.29,396.41 500.56,396.46 502.83,396.51 505.1,396.57 507.38,396.63 509.65,396.69 511.92,396.75 514.2,396.82 516.47,396.89 518.74,396.96 521.01,397.03 523.29,397.1 525.56,397.18" fill="none" stroke="#3cc0e0" stroke-width="1.2" stroke-dasharray="1 1.1" stroke-linejoin="round" />
<polyline points="346,396.86 348.27,396.67 350.55,396.47 352.82,396.28 355.09,396.09 357.37,395.9 359.64,395.72 361.91,395.55 364.18,395.38 366.46,395.23 368.73,395.08 371,394.94 373.28,394.81 375.55,394.69 377.82,394.59 380.09,394.5 382.37,394.43 384.64,394.37 386.91,394.32 389.19,394.27 391.46,394.23 393.73,394.18 396,394.14 398.28,394.1 400.55,394.06 402.82,394.02 405.1,393.99 407.37,393.95 409.64,393.92 411.92,393.89 414.19,393.87 416.46,393.84 418.73,393.82 421.01,393.8 423.28,393.78 425.55,393.77 427.83,393.75 430.1,393.74 432.37,393.74 434.64,393.73 436.92,393.73 439.19,393.73 441.46,393.74 443.74,393.74 446.01,393.75 448.28,393.76 450.55,393.76 452.83,393.77 455.1,393.79 457.37,393.8 459.65,393.81 461.92,393.83 464.19,393.84 466.46,393.86 468.74,393.88 471.01,393.9 473.28,393.91 475.56,393.93 477.83,393.96 480.1,393.98 482.37,394 484.65,394.02 486.92,394.04 489.19,394.07 491.47,394.1 493.74,394.13 496.01,394.17 498.29,394.22 500.56,394.27 502.83,394.32 505.1,394.38 507.38,394.43 509.65,394.5 511.92,394.56 514.2,394.63 516.47,394.7 518.74,394.77 521.01,394.84 523.29,394.91 525.56,394.99" fill="none" stroke="#3cc0e0" stroke-width="1.2" stroke-dasharray="1 1.1" stroke-linejoin="round" />
<polyline points="346,394.67 348.27,394.48 350.55,394.28 352.82,394.09 355.09,393.9 357.37,393.71 359.64,393.53 361.91,393.36 364.18,393.19 366.46,393.03 368.73,392.89 371,392.75 373.28,392.62 375.55,392.5 377.82,392.4 380.09,392.31 382.37,392.23 384.64,392.18 386.91,392.13 389.19,392.08 391.46,392.04 393.73,391.99 396,391.95 398.28,391.91 400.55,391.87 402.82,391.83 405.1,391.8 407.37,391.76 409.64,391.73 411.92,391.7 414.19,391.67 416.46,391.65 418.73,391.63 421.01,391.61 423.28,391.59 425.55,391.57 427.83,391.56 430.1,391.55 432.37,391.55 434.64,391.54 436.92,391.54 439.19,391.54 441.46,391.55 443.74,391.55 446.01,391.56 448.28,391.56 450.55,391.57 452.83,391.58 455.1,391.59 457.37,391.61 459.65,391.62 461.92,391.64 464.19,391.65 466.46,391.67 468.74,391.69 471.01,391.7 473.28,391.72 475.56,391.74 477.83,391.76 480.1,391.79 482.37,391.81 484.65,391.83 486.92,391.85 489.19,391.88 491.47,391.91 493.74,391.94 496.01,391.98 498.29,392.03 500.56,392.08 502.83,392.13 505.1,392.18 507.38,392.24 509.65,392.31 511.92,392.37 514.2,392.44 516.47,392.51 518.74,392.58 521.01,392.65 523.29,392.72 525.56,392.79" fill="none" stroke="#3cc0e0" stroke-width="1.2" stroke-dasharray="1 1.1" stroke-linejoin="round" />
<polyline points="312.13,411.26 317.25,402.5 329.13,389.66 337.44,382.46 349.2,373.07 356.23,367.13 364.53,364.94 373.99,368.38 384.34,374.01 389.58,372.14 400.95,379.33 408.24,373.07 413.1,375.27" fill="none" stroke="#b53aae" stroke-width="1.7" stroke-dasharray="5 2 1.2 2" stroke-linejoin="round" />
<rect x="335.77" y="343.34" width="8.2" height="35.68" fill="none" stroke="#666" stroke-width="0.9" />
<line x1="333.86" y1="360.87" x2="346.64" y2="360.87" stroke="#111" stroke-width="1.0" />
<line x1="339.87" y1="343.65" x2="339.87" y2="381.53" stroke="#111" stroke-width="1.0" />
<circle cx="339.87" cy="360.87" r="2.2" fill="#000"/>
<rect x="348.36" y="343.65" width="7.8" height="20.03" fill="none" stroke="#666" stroke-width="0.9" />
<line x1="346.64" y1="352.42" x2="359.42" y2="352.42" stroke="#111" stroke-width="1.0" />
<line x1="352.26" y1="336.77" x2="352.26" y2="367.44" stroke="#111" stroke-width="1.0" />
<circle cx="352.26" cy="352.42" r="2.2" fill="#000"/>
<rect x="366.44" y="333.01" width="8.2" height="15.34" fill="none" stroke="#666" stroke-width="0.9" />
<line x1="359.42" y1="340.21" x2="384.98" y2="340.21" stroke="#111" stroke-width="1.0" />
<line x1="370.54" y1="327.06" x2="370.54" y2="353.67" stroke="#111" stroke-width="1.0" />
<circle cx="370.54" cy="340.21" r="2.2" fill="#000"/>
<rect x="393.15" y="355.55" width="8.2" height="21.28" fill="none" stroke="#666" stroke-width="0.9" />
<line x1="384.98" y1="365.88" x2="410.54" y2="365.88" stroke="#111" stroke-width="1.0" />
<line x1="397.25" y1="349.6" x2="397.25" y2="384.03" stroke="#111" stroke-width="1.0" />
<circle cx="397.25" cy="365.88" r="2.2" fill="#000"/>
<rect x="428.39" y="316.42" width="8" height="26.6" fill="none" stroke="#666" stroke-width="0.9" />
<line x1="410.54" y1="329.57" x2="461.66" y2="329.57" stroke="#111" stroke-width="1.0" />
<line x1="432.39" y1="310.48" x2="432.39" y2="348.35" stroke="#111" stroke-width="1.0" />
<circle cx="432.39" cy="329.57" r="2.2" fill="#000"/>
<rect x="476.93" y="374.95" width="7.8" height="66.67" fill="none" stroke="#666" stroke-width="0.9" />
<line x1="461.66" y1="407.5" x2="512.78" y2="407.5" stroke="#111" stroke-width="1.0" />
<line x1="480.83" y1="375.27" x2="480.83" y2="440.37" stroke="#111" stroke-width="1.0" />
<circle cx="480.83" cy="407.5" r="2.2" fill="#000"/>
<rect x="308.3" y="263.2" width="217.2" height="211.2" fill="none" stroke="#8a8a8a" stroke-width="1.0" />
<path d="M308.3 474.4v-5.5M308.3 263.2v5.5M333.86 474.4v-5.5M333.86 263.2v5.5M359.42 474.4v-5.5M359.42 263.2v5.5M384.98 474.4v-5.5M384.98 263.2v5.5M410.54 474.4v-5.5M410.54 263.2v5.5M436.1 474.4v-5.5M436.1 263.2v5.5M461.66 474.4v-5.5M461.66 263.2v5.5M487.22 474.4v-5.5M487.22 263.2v5.5M512.78 474.4v-5.5M512.78 263.2v5.5M308.3 474.4v-2.8M308.3 263.2v2.8M314.69 474.4v-2.8M314.69 263.2v2.8M321.08 474.4v-2.8M321.08 263.2v2.8M327.47 474.4v-2.8M327.47 263.2v2.8M333.86 474.4v-2.8M333.86 263.2v2.8M340.25 474.4v-2.8M340.25 263.2v2.8M346.64 474.4v-2.8M346.64 263.2v2.8M353.03 474.4v-2.8M353.03 263.2v2.8M359.42 474.4v-2.8M359.42 263.2v2.8M365.81 474.4v-2.8M365.81 263.2v2.8M372.2 474.4v-2.8M372.2 263.2v2.8M378.59 474.4v-2.8M378.59 263.2v2.8M384.98 474.4v-2.8M384.98 263.2v2.8M391.37 474.4v-2.8M391.37 263.2v2.8M397.76 474.4v-2.8M397.76 263.2v2.8M404.15 474.4v-2.8M404.15 263.2v2.8M410.54 474.4v-2.8M410.54 263.2v2.8M416.93 474.4v-2.8M416.93 263.2v2.8M423.32 474.4v-2.8M423.32 263.2v2.8M429.71 474.4v-2.8M429.71 263.2v2.8M436.1 474.4v-2.8M436.1 263.2v2.8M442.49 474.4v-2.8M442.49 263.2v2.8M448.88 474.4v-2.8M448.88 263.2v2.8M455.27 474.4v-2.8M455.27 263.2v2.8M461.66 474.4v-2.8M461.66 263.2v2.8M468.05 474.4v-2.8M468.05 263.2v2.8M474.44 474.4v-2.8M474.44 263.2v2.8M480.83 474.4v-2.8M480.83 263.2v2.8M487.22 474.4v-2.8M487.22 263.2v2.8M493.61 474.4v-2.8M493.61 263.2v2.8M500 474.4v-2.8M500 263.2v2.8M506.39 474.4v-2.8M506.39 263.2v2.8M512.78 474.4v-2.8M512.78 263.2v2.8M519.17 474.4v-2.8M519.17 263.2v2.8M525.56 474.4v-2.8M525.56 263.2v2.8M308.3 443.27h5.5M525.5 443.27h-5.5M308.3 412.2h5.5M525.5 412.2h-5.5M308.3 381.12h5.5M525.5 381.12h-5.5M308.3 350.05h5.5M525.5 350.05h-5.5M308.3 318.97h5.5M525.5 318.97h-5.5M308.3 287.9h5.5M525.5 287.9h-5.5M308.3 474.35h2.8M525.5 474.35h-2.8M308.3 468.13h2.8M525.5 468.13h-2.8M308.3 461.92h2.8M525.5 461.92h-2.8M308.3 455.7h2.8M525.5 455.7h-2.8M308.3 449.49h2.8M525.5 449.49h-2.8M308.3 443.27h2.8M525.5 443.27h-2.8M308.3 437.06h2.8M525.5 437.06h-2.8M308.3 430.84h2.8M525.5 430.84h-2.8M308.3 424.63h2.8M525.5 424.63h-2.8M308.3 418.41h2.8M525.5 418.41h-2.8M308.3 412.2h2.8M525.5 412.2h-2.8M308.3 405.99h2.8M525.5 405.99h-2.8M308.3 399.77h2.8M525.5 399.77h-2.8M308.3 393.56h2.8M525.5 393.56h-2.8M308.3 387.34h2.8M525.5 387.34h-2.8M308.3 381.12h2.8M525.5 381.12h-2.8M308.3 374.91h2.8M525.5 374.91h-2.8M308.3 368.69h2.8M525.5 368.69h-2.8M308.3 362.48h2.8M525.5 362.48h-2.8M308.3 356.26h2.8M525.5 356.26h-2.8M308.3 350.05h2.8M525.5 350.05h-2.8M308.3 343.83h2.8M525.5 343.83h-2.8M308.3 337.62h2.8M525.5 337.62h-2.8M308.3 331.4h2.8M525.5 331.4h-2.8M308.3 325.19h2.8M525.5 325.19h-2.8M308.3 318.98h2.8M525.5 318.98h-2.8M308.3 312.76h2.8M525.5 312.76h-2.8M308.3 306.54h2.8M525.5 306.54h-2.8M308.3 300.33h2.8M525.5 300.33h-2.8M308.3 294.12h2.8M525.5 294.12h-2.8M308.3 287.9h2.8M525.5 287.9h-2.8M308.3 281.69h2.8M525.5 281.69h-2.8M308.3 275.47h2.8M525.5 275.47h-2.8M308.3 269.25h2.8M525.5 269.25h-2.8" stroke="#8a8a8a" stroke-width="1.0" fill="none"/>
<text x="308.3" y="486.3" font-size="11.2" stroke-width="0.12" text-anchor="middle" >0</text>
<text x="333.86" y="486.3" font-size="11.2" stroke-width="0.12" text-anchor="middle" >2</text>
<text x="359.42" y="486.3" font-size="11.2" stroke-width="0.12" text-anchor="middle" >4</text>
<text x="384.98" y="486.3" font-size="11.2" stroke-width="0.12" text-anchor="middle" >6</text>
<text x="410.54" y="486.3" font-size="11.2" stroke-width="0.12" text-anchor="middle" >8</text>
<text x="436.1" y="486.3" font-size="11.2" stroke-width="0.12" text-anchor="middle" >10</text>
<text x="461.66" y="486.3" font-size="11.2" stroke-width="0.12" text-anchor="middle" >12</text>
<text x="487.22" y="486.3" font-size="11.2" stroke-width="0.12" text-anchor="middle" >14</text>
<text x="512.78" y="486.3" font-size="11.2" stroke-width="0.12" text-anchor="middle" >16</text>
<text x="306" y="447.88" font-size="11.3" stroke-width="0.12" text-anchor="end" >&#8722;0.1</text>
<text x="306" y="416.8" font-size="11.3" stroke-width="0.12" text-anchor="end" >0</text>
<text x="306" y="385.73" font-size="11.3" stroke-width="0.12" text-anchor="end" >0.1</text>
<text x="306" y="354.65" font-size="11.3" stroke-width="0.12" text-anchor="end" >0.2</text>
<text x="306" y="323.58" font-size="11.3" stroke-width="0.12" text-anchor="end" >0.3</text>
<text x="306" y="292.5" font-size="11.3" stroke-width="0.12" text-anchor="end" >0.4</text>
<text x="459.4" y="501" font-size="13" stroke-width="0.12" text-anchor="start" textLength="67.5" lengthAdjust="spacingAndGlyphs" ><tspan font-style="italic">p</tspan><tspan font-size="8.5" dy="6.2">T</tspan><tspan dy="-6.2"> (GeV/c)</tspan></text>
<text transform="translate(282.9,276.6) rotate(-90)" font-size="14" stroke-width="0.12" ><tspan font-style="italic">v</tspan><tspan font-size="10" dx="1.2" dy="3.6">2</tspan></text>
<rect x="317.1" y="280.1" width="3.6" height="3.6" fill="#000" stroke="none" stroke-width="1" />
<text x="326.5" y="284.6" font-size="8.9" stroke-width="0.3" text-anchor="start" textLength="102.4" lengthAdjust="spacingAndGlyphs" >ALICE D<tspan font-size="6" dy="-3.5">0</tspan><tspan dy="3.5">,D</tspan><tspan font-size="6" dy="-3.5">+</tspan><tspan dy="3.5">, D</tspan><tspan font-size="6" dy="-3.5">*+</tspan><tspan dy="3.5"> average</tspan></text>
<rect x="314.4" y="289.5" width="10.7" height="6.8" fill="#fff" stroke="#888" stroke-width="0.9" />
<text x="326.5" y="295.6" font-size="8.9" stroke-width="0.3" text-anchor="start" textLength="60.8" lengthAdjust="spacingAndGlyphs" >Syst. from data</text>
<rect x="314.4" y="299.8" width="10.7" height="8" fill="#cdcdcd" stroke="#a0a0a0" stroke-width="0.9" />
<text x="326.5" y="306.1" font-size="8.9" stroke-width="0.3" text-anchor="start" textLength="93.4" lengthAdjust="spacingAndGlyphs" >Syst. from B feed-down</text>
<text x="442.2" y="280" font-size="9.2" stroke-width="0.3" text-anchor="start" textLength="66.5" lengthAdjust="spacingAndGlyphs" >30-50%, Pb-Pb</text>
<text x="442.2" y="291.7" font-size="9.2" stroke-width="0.3" text-anchor="start" textLength="70.6" lengthAdjust="spacingAndGlyphs" >&#160;&#160;s<tspan font-size="6.2" dy="3">NN</tspan><tspan dy="-3"> = 2.76 TeV</tspan></text>
<path d="M442.4 288.96L443.2 288.16L444.3 293L445.1 284L460.5 284" fill="none" stroke="#111" stroke-width="0.8"/>
<line x1="314.3" y1="425.4" x2="330" y2="425.4" stroke="#3cc0e0" stroke-width="1.2" stroke-dasharray="1 1.1"/>
<text x="334.9" y="427.9" font-size="9.1" stroke-width="0.3" text-anchor="start" >WHDG rad+coll</text>
<line x1="314.3" y1="434.9" x2="330" y2="434.9" stroke="#b53aae" stroke-width="1.7" stroke-dasharray="5 2 1.2 2"/>
<text x="334.9" y="437.4" font-size="9.1" stroke-width="0.3" text-anchor="start" >POWLANG in-medium had.</text>
<line x1="314.3" y1="444.4" x2="330" y2="444.4" stroke="#3f80d8" stroke-width="1.2" stroke-dasharray="2 1.1 0.8 1.1 0.8 1.1"/>
<text x="334.9" y="446.9" font-size="9.1" stroke-width="0.3" text-anchor="start" >MC@sHQ+EPOS</text>
<line x1="314.3" y1="454" x2="330" y2="454" stroke="#2a2a98" stroke-width="1.1" stroke-dasharray="2.4 1.1 0.8 1.1 0.8 1.1"/>
<text x="334.9" y="456.5" font-size="9.1" stroke-width="0.3" text-anchor="start" >Cao, Qin, Bass</text>
<line x1="314.3" y1="463.7" x2="330" y2="463.7" stroke="#f06a28" stroke-width="1.3" stroke-dasharray="2.2 1.5"/>
<text x="334.9" y="466.2" font-size="9.1" stroke-width="0.3" text-anchor="start" >TAMU elastic</text>
<line x1="440" y1="445.7" x2="454.2" y2="445.7" stroke="#179a4e" stroke-width="1.7" stroke-dasharray="1.2 1.0"/>
<text x="457.8" y="448.2" font-size="9.1" stroke-width="0.3" text-anchor="start" >PHSD</text>
<line x1="440" y1="454.6" x2="454.2" y2="454.6" stroke="#a0a035" stroke-width="1.4" stroke-dasharray="3.2 1.1 1 1.1"/>
<text x="457.8" y="457.1" font-size="9.1" stroke-width="0.3" text-anchor="start" >BAMPS el.</text>
<line x1="440" y1="463.8" x2="454.2" y2="463.8" stroke="#c4c48a" stroke-width="2.0" />
<text x="457.8" y="466.3" font-size="9.1" stroke-width="0.3" text-anchor="start" >BAMPS el.+rad.</text>
</svg></body></html>
